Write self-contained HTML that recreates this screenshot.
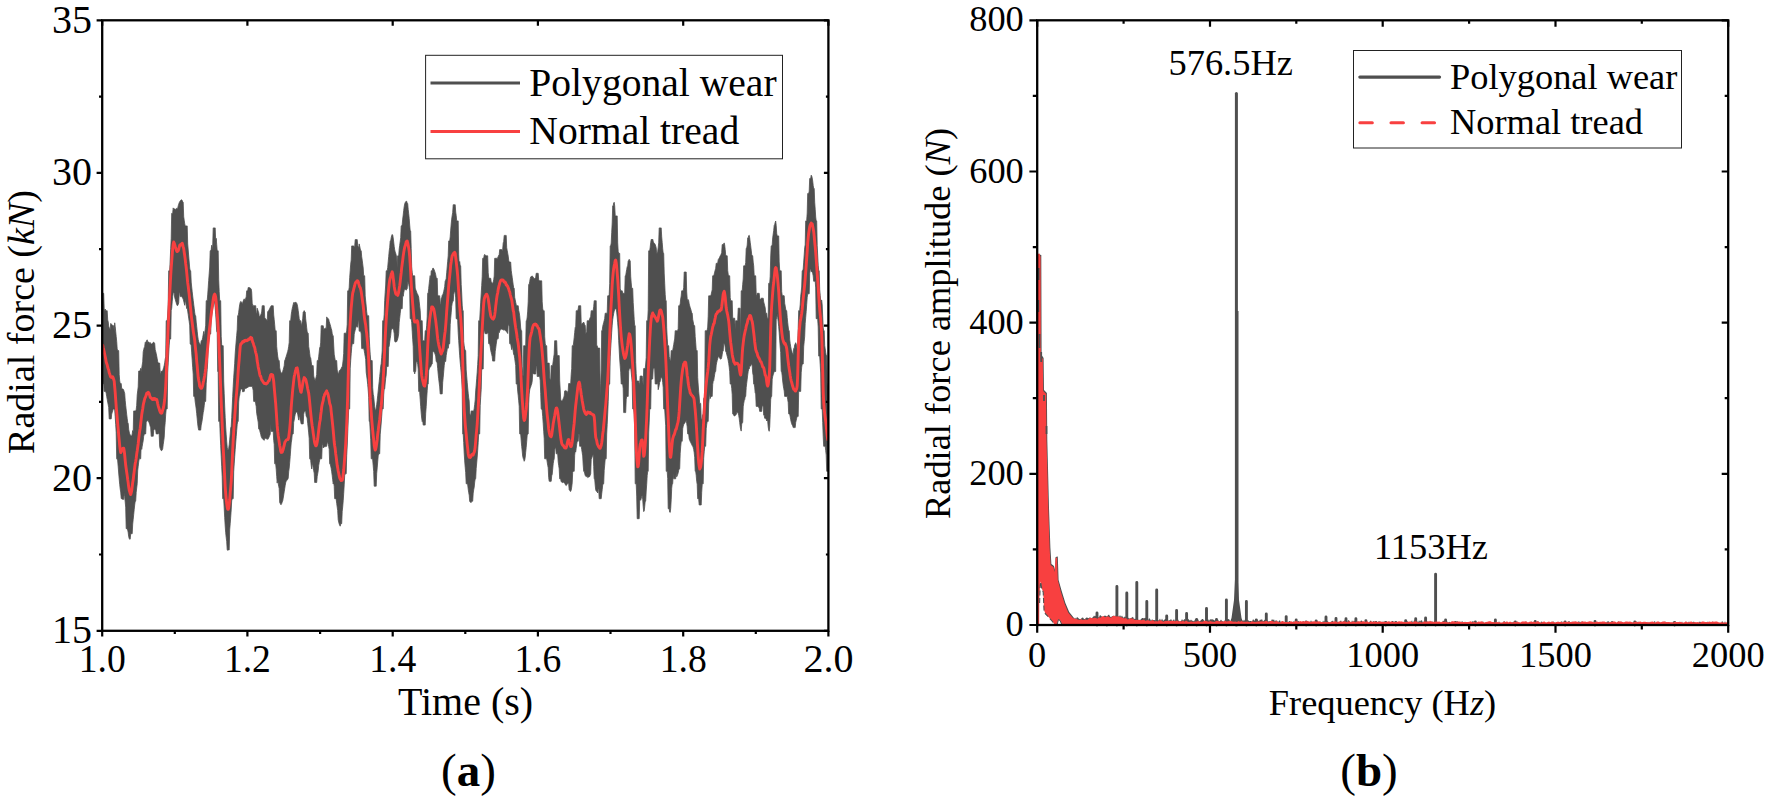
<!DOCTYPE html>
<html lang="en"><head><meta charset="utf-8"><title>Radial force: polygonal wear vs normal tread</title>
<style>html,body{margin:0;padding:0;background:#fff;overflow:hidden}</style></head>
<body>
<svg width="1769" height="802" viewBox="0 0 1769 802" style="display:block">
<rect width="1769" height="802" fill="#fff"/>
<style>text{font-family:"Liberation Serif","Times New Roman",serif;fill:#000}.l{font-size:40px}.r{font-size:36.4px}.b{font-weight:bold;font-size:47px}</style>
<clipPath id="cl"><rect x="102.2" y="20.3" width="726.1999999999999" height="610.5"/></clipPath>
<g clip-path="url(#cl)"><path d="M102.2,293.3 L102.7,293.3 L103.2,293.3 L103.7,293.3 L104.2,309.2 L104.7,311.6 L105.2,309.0 L105.7,310.7 L106.2,310.7 L106.7,310.7 L107.2,310.7 L107.7,320.0 L108.2,321.7 L108.7,326.2 L109.2,327.6 L109.7,328.8 L110.2,329.7 L110.7,323.5 L111.2,324.0 L111.7,324.4 L112.2,324.8 L112.7,325.7 L113.2,325.7 L113.7,325.7 L114.2,331.6 L114.7,322.8 L115.2,326.7 L115.7,331.5 L116.2,336.6 L116.7,341.4 L117.2,348.9 L117.7,350.6 L118.2,350.6 L118.7,350.6 L119.2,374.6 L119.7,380.8 L120.2,383.5 L120.7,383.5 L121.2,383.5 L121.7,388.5 L122.2,388.8 L122.7,389.0 L123.2,389.2 L123.7,390.1 L124.2,391.9 L124.7,393.4 L125.2,400.5 L125.7,405.5 L126.2,410.0 L126.7,414.4 L127.2,418.5 L127.7,422.4 L128.2,423.4 L128.7,429.3 L129.2,432.0 L129.7,433.9 L130.2,434.7 L130.7,435.9 L131.2,435.9 L131.7,435.9 L132.2,434.0 L132.7,430.6 L133.2,432.3 L133.7,410.9 L134.2,410.9 L134.7,410.9 L135.2,410.9 L135.7,410.9 L136.2,409.4 L136.7,405.3 L137.2,395.1 L137.7,390.9 L138.2,386.8 L138.7,371.0 L139.2,371.0 L139.7,371.0 L140.2,371.0 L140.7,368.3 L141.2,371.7 L141.7,368.3 L142.2,365.0 L142.7,361.9 L143.2,351.9 L143.7,349.6 L144.2,347.7 L144.7,346.5 L145.2,342.5 L145.7,342.0 L146.2,341.6 L146.7,340.6 L147.2,339.8 L147.7,342.4 L148.2,341.9 L148.7,341.9 L149.2,342.5 L149.7,343.9 L150.2,342.5 L150.7,343.7 L151.2,344.1 L151.7,344.0 L152.2,343.5 L152.7,343.0 L153.2,342.4 L153.7,342.0 L154.2,343.2 L154.7,343.2 L155.2,349.8 L155.7,351.4 L156.2,353.5 L156.7,356.0 L157.2,358.7 L157.7,361.5 L158.2,363.1 L158.7,363.1 L159.2,363.1 L159.7,363.1 L160.2,372.9 L160.7,374.6 L161.2,370.9 L161.7,371.4 L162.2,371.3 L162.7,370.5 L163.2,369.2 L163.7,367.5 L164.2,365.4 L164.7,362.9 L165.2,359.0 L165.7,356.9 L166.2,320.7 L166.7,320.7 L167.2,320.7 L167.7,315.0 L168.2,304.4 L168.7,270.8 L169.2,270.8 L169.7,270.8 L170.2,259.8 L170.7,248.5 L171.2,238.5 L171.7,213.4 L172.2,213.4 L172.7,212.8 L173.2,207.9 L173.7,209.4 L174.2,208.8 L174.7,209.0 L175.2,209.3 L175.7,209.8 L176.2,208.4 L176.7,208.4 L177.2,208.4 L177.7,208.4 L178.2,205.9 L178.7,204.2 L179.2,202.8 L179.7,201.7 L180.2,200.9 L180.7,200.3 L181.2,199.9 L181.7,199.8 L182.2,200.5 L182.7,202.1 L183.2,202.2 L183.7,216.8 L184.2,220.2 L184.7,223.5 L185.2,225.9 L185.7,225.9 L186.2,225.9 L186.7,225.9 L187.2,225.9 L187.7,243.9 L188.2,250.0 L188.7,256.0 L189.2,262.0 L189.7,268.1 L190.2,270.8 L190.7,270.8 L191.2,282.1 L191.7,287.0 L192.2,291.7 L192.7,296.1 L193.2,300.3 L193.7,304.3 L194.2,308.3 L194.7,312.4 L195.2,315.7 L195.7,315.7 L196.2,322.1 L196.7,326.4 L197.2,331.3 L197.7,336.0 L198.2,339.5 L198.7,341.6 L199.2,342.9 L199.7,343.7 L200.2,344.9 L200.7,344.8 L201.2,340.7 L201.7,340.7 L202.2,339.8 L202.7,337.4 L203.2,334.6 L203.7,331.4 L204.2,336.7 L204.7,333.3 L205.2,329.5 L205.7,325.2 L206.2,300.7 L206.7,300.7 L207.2,300.7 L207.7,294.9 L208.2,287.6 L208.7,280.4 L209.2,273.5 L209.7,267.0 L210.2,250.8 L210.7,250.8 L211.2,249.5 L211.7,245.2 L212.2,249.8 L212.7,246.0 L213.2,227.9 L213.7,227.9 L214.2,227.9 L214.7,227.9 L215.2,227.9 L215.7,241.2 L216.2,238.3 L216.7,244.4 L217.2,250.8 L217.7,250.8 L218.2,250.8 L218.7,279.6 L219.2,291.5 L219.7,300.7 L220.2,300.7 L220.7,300.7 L221.2,336.3 L221.7,344.8 L222.2,345.7 L222.7,345.7 L223.2,345.7 L223.7,381.0 L224.2,393.7 L224.7,406.1 L225.2,417.4 L225.7,427.0 L226.2,434.8 L226.7,441.6 L227.2,447.3 L227.7,449.7 L228.2,450.0 L228.7,448.3 L229.2,444.7 L229.7,439.9 L230.2,434.1 L230.7,428.0 L231.2,426.3 L231.7,417.5 L232.2,407.1 L232.7,396.3 L233.2,386.3 L233.7,377.8 L234.2,370.3 L234.7,363.3 L235.2,353.4 L235.7,347.1 L236.2,341.1 L236.7,335.3 L237.2,329.6 L237.7,315.7 L238.2,315.7 L238.7,312.3 L239.2,308.1 L239.7,304.6 L240.2,302.5 L240.7,301.5 L241.2,301.7 L241.7,302.6 L242.2,303.7 L242.7,302.4 L243.2,301.1 L243.7,299.9 L244.2,298.8 L244.7,300.7 L245.2,299.5 L245.7,298.3 L246.2,297.0 L246.7,290.8 L247.2,290.8 L247.7,290.8 L248.2,287.5 L248.7,287.5 L249.2,287.5 L249.7,287.7 L250.2,288.0 L250.7,288.4 L251.2,289.0 L251.7,292.0 L252.2,303.2 L252.7,305.1 L253.2,307.4 L253.7,305.3 L254.2,305.7 L254.7,305.7 L255.2,305.7 L255.7,305.7 L256.2,312.9 L256.7,314.2 L257.2,308.2 L257.7,309.7 L258.2,311.2 L258.7,312.5 L259.2,315.9 L259.7,316.9 L260.2,316.1 L260.7,315.1 L261.2,313.7 L261.7,312.0 L262.2,305.7 L262.7,305.7 L263.2,305.5 L263.7,305.7 L264.2,305.7 L264.7,317.4 L265.2,318.2 L265.7,318.9 L266.2,319.5 L266.7,320.1 L267.2,320.5 L267.7,311.6 L268.2,311.2 L268.7,310.5 L269.2,309.6 L269.7,308.6 L270.2,307.5 L270.7,306.6 L271.2,305.7 L271.7,305.7 L272.2,305.7 L272.7,305.7 L273.2,305.7 L273.7,314.9 L274.2,319.6 L274.7,324.8 L275.2,330.7 L275.7,330.7 L276.2,330.7 L276.7,346.6 L277.2,351.6 L277.7,356.1 L278.2,359.2 L278.7,360.6 L279.2,360.6 L279.7,367.8 L280.2,370.2 L280.7,371.9 L281.2,372.9 L281.7,373.2 L282.2,372.6 L282.7,371.4 L283.2,369.7 L283.7,367.8 L284.2,365.7 L284.7,360.6 L285.2,359.6 L285.7,358.0 L286.2,356.4 L286.7,354.7 L287.2,353.1 L287.7,351.4 L288.2,349.3 L288.7,346.3 L289.2,342.4 L289.7,320.7 L290.2,320.7 L290.7,320.7 L291.2,314.9 L291.7,311.4 L292.2,308.7 L292.7,306.5 L293.2,304.4 L293.7,302.5 L294.2,303.5 L294.7,302.4 L295.2,302.1 L295.7,302.6 L296.2,302.5 L296.7,303.2 L297.2,304.4 L297.7,306.9 L298.2,310.4 L298.7,314.3 L299.2,318.5 L299.7,320.7 L300.2,320.7 L300.7,320.7 L301.2,326.3 L301.7,324.1 L302.2,321.7 L302.7,318.9 L303.2,312.0 L303.7,312.0 L304.2,310.6 L304.7,312.0 L305.2,312.0 L305.7,318.9 L306.2,323.1 L306.7,327.8 L307.2,332.0 L307.7,333.2 L308.2,333.2 L308.7,346.4 L309.2,349.6 L309.7,353.5 L310.2,357.7 L310.7,357.7 L311.2,361.8 L311.7,365.3 L312.2,365.6 L312.7,365.6 L313.2,365.6 L313.7,376.0 L314.2,378.1 L314.7,379.6 L315.2,380.4 L315.7,378.4 L316.2,377.0 L316.7,374.4 L317.2,360.6 L317.7,360.6 L318.2,360.6 L318.7,356.8 L319.2,352.1 L319.7,347.6 L320.2,346.9 L320.7,342.2 L321.2,325.7 L321.7,325.7 L322.2,325.7 L322.7,325.7 L323.2,325.7 L323.7,329.4 L324.2,328.9 L324.7,328.5 L325.2,328.3 L325.7,328.2 L326.2,328.4 L326.7,316.9 L327.2,317.8 L327.7,318.6 L328.2,318.6 L328.7,319.3 L329.2,321.6 L329.7,323.1 L330.2,324.7 L330.7,326.5 L331.2,328.6 L331.7,330.0 L332.2,333.4 L332.7,335.7 L333.2,335.7 L333.7,345.0 L334.2,354.2 L334.7,357.1 L335.2,359.9 L335.7,360.6 L336.2,360.6 L336.7,360.6 L337.2,370.0 L337.7,371.9 L338.2,373.3 L338.7,374.3 L339.2,370.7 L339.7,370.5 L340.2,369.9 L340.7,369.2 L341.2,368.4 L341.7,367.2 L342.2,367.0 L342.7,364.0 L343.2,359.4 L343.7,353.4 L344.2,333.2 L344.7,333.2 L345.2,333.2 L345.7,333.2 L346.2,333.2 L346.7,330.9 L347.2,324.3 L347.7,290.8 L348.2,290.8 L348.7,290.8 L349.2,287.3 L349.7,277.4 L350.2,270.7 L350.7,264.1 L351.2,259.9 L351.7,245.9 L352.2,245.9 L352.7,245.9 L353.2,245.9 L353.7,245.9 L354.2,246.7 L354.7,246.4 L355.2,239.6 L355.7,239.6 L356.2,239.6 L356.7,239.6 L357.2,239.6 L357.7,245.2 L358.2,246.7 L358.7,248.5 L359.2,243.9 L359.7,246.2 L360.2,248.6 L360.7,250.8 L361.2,250.8 L361.7,256.8 L362.2,260.1 L362.7,263.9 L363.2,268.0 L363.7,275.8 L364.2,275.8 L364.7,275.8 L365.2,295.9 L365.7,300.9 L366.2,306.1 L366.7,311.7 L367.2,315.7 L367.7,315.7 L368.2,315.7 L368.7,315.7 L369.2,336.8 L369.7,346.4 L370.2,354.2 L370.7,359.9 L371.2,360.6 L371.7,360.6 L372.2,360.6 L372.7,387.7 L373.2,394.2 L373.7,396.4 L374.2,402.0 L374.7,406.6 L375.2,409.8 L375.7,410.3 L376.2,408.2 L376.7,404.8 L377.2,400.5 L377.7,395.8 L378.2,390.9 L378.7,386.1 L379.2,381.5 L379.7,376.6 L380.2,371.6 L380.7,366.2 L381.2,363.7 L381.7,357.5 L382.2,350.8 L382.7,320.7 L383.2,320.7 L383.7,320.7 L384.2,314.7 L384.7,300.5 L385.2,292.2 L385.7,285.0 L386.2,270.8 L386.7,270.8 L387.2,270.8 L387.7,267.5 L388.2,261.7 L388.7,256.6 L389.2,250.9 L389.7,247.4 L390.2,240.9 L390.7,240.9 L391.2,237.6 L391.7,235.6 L392.2,234.5 L392.7,235.0 L393.2,237.9 L393.7,242.0 L394.2,246.4 L394.7,249.8 L395.2,252.1 L395.7,253.3 L396.2,255.3 L396.7,256.3 L397.2,268.1 L397.7,255.8 L398.2,255.8 L398.7,255.8 L399.2,249.0 L399.7,245.4 L400.2,241.6 L400.7,237.7 L401.2,225.9 L401.7,225.9 L402.2,224.5 L402.7,219.1 L403.2,215.1 L403.7,210.4 L404.2,206.6 L404.7,204.0 L405.2,202.6 L405.7,201.7 L406.2,201.2 L406.7,201.3 L407.2,203.4 L407.7,203.4 L408.2,209.5 L408.7,213.7 L409.2,218.6 L409.7,225.1 L410.2,230.9 L410.7,230.9 L411.2,248.6 L411.7,266.9 L412.2,272.3 L412.7,275.8 L413.2,275.8 L413.7,275.8 L414.2,275.8 L414.7,275.8 L415.2,288.1 L415.7,289.6 L416.2,290.9 L416.7,292.2 L417.2,294.0 L417.7,294.2 L418.2,295.7 L418.7,297.1 L419.2,301.8 L419.7,306.3 L420.2,310.5 L420.7,320.7 L421.2,320.7 L421.7,320.7 L422.2,320.7 L422.7,340.7 L423.2,340.7 L423.7,340.7 L424.2,340.7 L424.7,340.7 L425.2,330.7 L425.7,330.7 L426.2,330.7 L426.7,325.2 L427.2,316.8 L427.7,293.3 L428.2,293.3 L428.7,288.5 L429.2,283.5 L429.7,279.3 L430.2,275.6 L430.7,280.5 L431.2,270.8 L431.7,270.8 L432.2,270.8 L432.7,268.3 L433.2,268.1 L433.7,268.8 L434.2,269.9 L434.7,271.3 L435.2,272.8 L435.7,274.7 L436.2,277.5 L436.7,278.3 L437.2,278.3 L437.7,295.1 L438.2,295.8 L438.7,295.8 L439.2,295.8 L439.7,295.8 L440.2,303.7 L440.7,304.3 L441.2,298.2 L441.7,298.2 L442.2,295.3 L442.7,294.7 L443.2,293.5 L443.7,291.6 L444.2,289.2 L444.7,286.7 L445.2,280.8 L445.7,280.3 L446.2,278.5 L446.7,272.8 L447.2,266.9 L447.7,261.2 L448.2,255.9 L448.7,240.9 L449.2,240.9 L449.7,240.9 L450.2,236.8 L450.7,230.1 L451.2,224.1 L451.7,219.1 L452.2,215.4 L452.7,212.5 L453.2,204.7 L453.7,204.7 L454.2,204.7 L454.7,204.7 L455.2,204.7 L455.7,212.0 L456.2,215.6 L456.7,220.9 L457.2,220.9 L457.7,220.9 L458.2,220.9 L458.7,254.6 L459.2,264.5 L459.7,261.5 L460.2,265.8 L460.7,265.8 L461.2,284.5 L461.7,293.0 L462.2,305.1 L462.7,310.7 L463.2,310.7 L463.7,341.5 L464.2,345.8 L464.7,348.8 L465.2,350.6 L465.7,350.6 L466.2,369.9 L466.7,376.2 L467.2,382.3 L467.7,388.0 L468.2,393.2 L468.7,397.7 L469.2,401.1 L469.7,413.1 L470.2,414.7 L470.7,415.9 L471.2,410.9 L471.7,410.9 L472.2,410.9 L472.7,410.9 L473.2,410.9 L473.7,411.2 L474.2,408.4 L474.7,404.6 L475.2,399.9 L475.7,390.9 L476.2,385.1 L476.7,378.8 L477.2,372.2 L477.7,364.5 L478.2,355.5 L478.7,320.7 L479.2,320.7 L479.7,320.3 L480.2,310.8 L480.7,302.1 L481.2,293.9 L481.7,285.6 L482.2,276.8 L482.7,258.3 L483.2,258.3 L483.7,258.3 L484.2,255.3 L484.7,254.4 L485.2,255.1 L485.7,255.8 L486.2,255.8 L486.7,255.8 L487.2,255.8 L487.7,255.8 L488.2,272.8 L488.7,277.3 L489.2,278.3 L489.7,278.3 L490.2,278.3 L490.7,278.3 L491.2,281.8 L491.7,282.5 L492.2,283.1 L492.7,283.4 L493.2,282.0 L493.7,279.7 L494.2,276.1 L494.7,258.3 L495.2,258.3 L495.7,258.3 L496.2,258.3 L496.7,258.3 L497.2,258.7 L497.7,257.5 L498.2,256.5 L498.7,255.3 L499.2,254.6 L499.7,249.6 L500.2,249.6 L500.7,249.6 L501.2,249.6 L501.7,249.6 L502.2,250.9 L502.7,249.2 L503.2,243.0 L503.7,241.4 L504.2,235.4 L504.7,235.4 L505.2,235.4 L505.7,235.4 L506.2,235.4 L506.7,247.7 L507.2,250.4 L507.7,253.2 L508.2,256.1 L508.7,260.2 L509.2,262.1 L509.7,262.1 L510.2,262.1 L510.7,262.1 L511.2,270.3 L511.7,273.8 L512.2,277.3 L512.7,281.0 L513.2,284.8 L513.7,287.8 L514.2,288.3 L514.7,297.3 L515.2,299.8 L515.7,302.3 L516.2,304.6 L516.7,305.7 L517.2,305.7 L517.7,305.7 L518.2,305.7 L518.7,310.4 L519.2,312.6 L519.7,315.9 L520.2,321.0 L520.7,328.0 L521.2,330.7 L521.7,330.7 L522.2,366.2 L522.7,374.9 L523.2,376.0 L523.7,345.7 L524.2,345.7 L524.7,345.7 L525.2,345.7 L525.7,345.7 L526.2,320.7 L526.7,320.7 L527.2,317.1 L527.7,311.1 L528.2,301.8 L528.7,284.5 L529.2,284.5 L529.7,281.6 L530.2,278.7 L530.7,276.9 L531.2,276.8 L531.7,276.1 L532.2,276.0 L532.7,276.4 L533.2,277.1 L533.7,278.3 L534.2,278.3 L534.7,278.9 L535.2,278.1 L535.7,277.4 L536.2,273.3 L536.7,273.3 L537.2,273.3 L537.7,273.3 L538.2,273.3 L538.7,280.0 L539.2,280.5 L539.7,280.8 L540.2,280.8 L540.7,280.8 L541.2,280.8 L541.7,280.8 L542.2,301.8 L542.7,308.3 L543.2,310.7 L543.7,310.7 L544.2,310.7 L544.7,336.8 L545.2,343.3 L545.7,345.7 L546.2,345.7 L546.7,345.7 L547.2,362.5 L547.7,363.1 L548.2,363.1 L548.7,363.1 L549.2,363.1 L549.7,378.0 L550.2,379.6 L550.7,380.0 L551.2,365.6 L551.7,365.6 L552.2,365.6 L552.7,365.2 L553.2,361.1 L553.7,357.3 L554.2,354.1 L554.7,340.7 L555.2,340.7 L555.7,340.7 L556.2,340.7 L556.7,340.7 L557.2,355.6 L557.7,355.6 L558.2,355.6 L558.7,355.6 L559.2,355.6 L559.7,380.9 L560.2,390.0 L560.7,399.1 L561.2,400.9 L561.7,400.9 L562.2,400.9 L562.7,399.9 L563.2,398.7 L563.7,397.4 L564.2,396.0 L564.7,390.9 L565.2,390.9 L565.7,390.5 L566.2,390.9 L566.7,390.9 L567.2,394.1 L567.7,391.8 L568.2,390.4 L568.7,383.5 L569.2,383.5 L569.7,383.5 L570.2,383.5 L570.7,383.5 L571.2,374.3 L571.7,368.7 L572.2,345.7 L572.7,345.7 L573.2,345.7 L573.7,342.0 L574.2,337.4 L574.7,332.4 L575.2,327.4 L575.7,327.9 L576.2,310.7 L576.7,310.7 L577.2,310.7 L577.7,310.7 L578.2,308.8 L578.7,305.7 L579.2,305.7 L579.7,305.7 L580.2,305.7 L580.7,305.7 L581.2,323.1 L581.7,325.8 L582.2,323.2 L582.7,323.2 L583.2,323.2 L583.7,322.1 L584.2,323.2 L584.7,324.9 L585.2,325.4 L585.7,333.8 L586.2,332.9 L586.7,331.5 L587.2,320.7 L587.7,320.7 L588.2,320.7 L588.7,320.7 L589.2,320.2 L589.7,318.8 L590.2,317.6 L590.7,316.4 L591.2,310.7 L591.7,310.7 L592.2,310.7 L592.7,310.7 L593.2,310.5 L593.7,306.7 L594.2,300.7 L594.7,300.7 L595.2,300.7 L595.7,300.7 L596.2,300.7 L596.7,345.7 L597.2,345.7 L597.7,348.1 L598.2,348.1 L598.7,348.1 L599.2,348.1 L599.7,348.1 L600.2,395.5 L600.7,383.3 L601.2,370.0 L601.7,330.7 L602.2,330.7 L602.7,326.4 L603.2,324.4 L603.7,322.5 L604.2,320.6 L604.7,318.5 L605.2,313.2 L605.7,313.2 L606.2,313.2 L606.7,313.2 L607.2,313.2 L607.7,295.8 L608.2,295.8 L608.7,295.8 L609.2,294.5 L609.7,283.7 L610.2,245.9 L610.7,245.9 L611.2,243.1 L611.7,232.6 L612.2,222.9 L612.7,205.9 L613.2,205.9 L613.7,203.0 L614.2,202.3 L614.7,205.9 L615.2,215.3 L615.7,215.9 L616.2,215.9 L616.7,215.9 L617.2,215.9 L617.7,242.9 L618.2,251.4 L618.7,253.3 L619.2,253.3 L619.7,253.3 L620.2,288.3 L620.7,290.8 L621.2,290.8 L621.7,290.8 L622.2,290.8 L622.7,293.3 L623.2,293.3 L623.7,293.3 L624.2,293.3 L624.7,293.3 L625.2,275.8 L625.7,275.8 L626.2,272.3 L626.7,269.5 L627.2,266.7 L627.7,266.0 L628.2,260.8 L628.7,260.5 L629.2,259.3 L629.7,260.5 L630.2,260.8 L630.7,276.2 L631.2,282.9 L631.7,288.3 L632.2,288.3 L632.7,288.3 L633.2,302.4 L633.7,310.4 L634.2,319.4 L634.7,325.7 L635.2,325.7 L635.7,362.5 L636.2,373.7 L636.7,381.0 L637.2,381.0 L637.7,381.0 L638.2,381.0 L638.7,381.0 L639.2,385.0 L639.7,382.4 L640.2,376.0 L640.7,376.0 L641.2,376.0 L641.7,376.0 L642.2,376.0 L642.7,380.5 L643.2,385.6 L643.7,368.5 L644.2,368.5 L644.7,368.5 L645.2,368.5 L645.7,364.0 L646.2,357.5 L646.7,320.7 L647.2,320.7 L647.7,320.7 L648.2,309.8 L648.7,250.8 L649.2,250.8 L649.7,250.8 L650.2,247.2 L650.7,242.5 L651.2,239.7 L651.7,239.1 L652.2,240.2 L652.7,239.2 L653.2,241.2 L653.7,243.0 L654.2,243.2 L654.7,243.6 L655.2,244.5 L655.7,246.0 L656.2,248.0 L656.7,253.3 L657.2,253.3 L657.7,251.3 L658.2,247.5 L658.7,242.8 L659.2,227.9 L659.7,227.9 L660.2,227.9 L660.7,227.9 L661.2,227.9 L661.7,236.8 L662.2,242.5 L662.7,248.7 L663.2,253.3 L663.7,253.3 L664.2,273.1 L664.7,283.2 L665.2,294.3 L665.7,300.7 L666.2,300.7 L666.7,327.9 L667.2,338.1 L667.7,345.7 L668.2,345.7 L668.7,345.7 L669.2,356.8 L669.7,358.4 L670.2,360.6 L670.7,360.6 L671.2,350.6 L671.7,350.6 L672.2,350.6 L672.7,350.4 L673.2,347.4 L673.7,344.8 L674.2,341.4 L674.7,339.0 L675.2,330.7 L675.7,330.7 L676.2,330.7 L676.7,330.7 L677.2,330.7 L677.7,330.4 L678.2,328.5 L678.7,305.7 L679.2,305.7 L679.7,305.7 L680.2,303.6 L680.7,299.0 L681.2,296.0 L681.7,290.8 L682.2,290.8 L682.7,290.8 L683.2,290.8 L683.7,287.6 L684.2,272.0 L684.7,272.0 L685.2,272.0 L685.7,272.0 L686.2,272.0 L686.7,292.0 L687.2,298.9 L687.7,300.7 L688.2,299.6 L688.7,300.7 L689.2,303.9 L689.7,305.8 L690.2,307.5 L690.7,309.0 L691.2,310.7 L691.7,313.1 L692.2,313.2 L692.7,319.3 L693.2,321.8 L693.7,324.6 L694.2,325.7 L694.7,325.7 L695.2,336.6 L695.7,342.8 L696.2,349.9 L696.7,350.6 L697.2,350.6 L697.7,377.4 L698.2,385.0 L698.7,391.6 L699.2,397.0 L699.7,403.4 L700.2,403.4 L700.7,403.4 L701.2,418.1 L701.7,420.1 L702.2,419.1 L702.7,414.7 L703.2,414.7 L703.7,398.4 L704.2,398.4 L704.7,395.8 L705.2,330.7 L705.7,330.7 L706.2,330.7 L706.7,330.7 L707.2,330.0 L707.7,327.1 L708.2,316.3 L708.7,295.8 L709.2,295.8 L709.7,295.8 L710.2,295.8 L710.7,295.8 L711.2,294.3 L711.7,291.9 L712.2,289.8 L712.7,275.8 L713.2,275.8 L713.7,275.8 L714.2,274.2 L714.7,272.1 L715.2,270.1 L715.7,268.3 L716.2,263.3 L716.7,263.3 L717.2,263.3 L717.7,263.3 L718.2,259.7 L718.7,258.9 L719.2,258.1 L719.7,257.2 L720.2,255.8 L720.7,255.2 L721.2,254.1 L721.7,252.6 L722.2,244.6 L722.7,244.6 L723.2,244.6 L723.7,243.7 L724.2,242.9 L724.7,245.0 L725.2,249.6 L725.7,254.9 L726.2,255.8 L726.7,255.8 L727.2,255.8 L727.7,270.4 L728.2,274.3 L728.7,275.8 L729.2,275.8 L729.7,275.8 L730.2,297.6 L730.7,300.7 L731.2,300.7 L731.7,300.7 L732.2,300.7 L732.7,318.2 L733.2,318.2 L733.7,318.2 L734.2,318.2 L734.7,318.2 L735.2,329.2 L735.7,320.7 L736.2,320.7 L736.7,320.7 L737.2,320.7 L737.7,320.7 L738.2,308.2 L738.7,308.2 L739.2,308.2 L739.7,308.2 L740.2,308.2 L740.7,343.1 L741.2,290.8 L741.7,290.8 L742.2,290.8 L742.7,284.3 L743.2,279.0 L743.7,265.8 L744.2,265.8 L744.7,265.8 L745.2,265.8 L745.7,262.5 L746.2,248.3 L746.7,248.3 L747.2,245.1 L747.7,237.9 L748.2,237.9 L748.7,235.7 L749.2,235.3 L749.7,237.9 L750.2,242.2 L750.7,245.9 L751.2,250.1 L751.7,254.5 L752.2,255.8 L752.7,255.8 L753.2,262.1 L753.7,265.9 L754.2,275.8 L754.7,275.8 L755.2,275.8 L755.7,275.8 L756.2,294.4 L756.7,296.4 L757.2,293.3 L757.7,293.3 L758.2,293.3 L758.7,293.3 L759.2,293.3 L759.7,298.4 L760.2,299.0 L760.7,299.6 L761.2,298.2 L761.7,298.2 L762.2,298.2 L762.7,298.2 L763.2,298.2 L763.7,301.9 L764.2,303.8 L764.7,305.7 L765.2,307.8 L765.7,313.2 L766.2,313.2 L766.7,313.2 L767.2,318.2 L767.7,318.2 L768.2,318.2 L768.7,283.3 L769.2,283.3 L769.7,283.3 L770.2,276.4 L770.7,257.0 L771.2,245.9 L771.7,245.9 L772.2,245.0 L772.7,237.9 L773.2,234.1 L773.7,230.6 L774.2,225.4 L774.7,224.4 L775.2,222.4 L775.7,221.0 L776.2,225.4 L776.7,233.3 L777.2,235.9 L777.7,235.9 L778.2,235.9 L778.7,235.9 L779.2,261.9 L779.7,270.2 L780.2,270.8 L780.7,270.8 L781.2,270.8 L781.7,291.6 L782.2,295.3 L782.7,295.8 L783.2,295.3 L783.7,295.8 L784.2,295.8 L784.7,303.4 L785.2,306.1 L785.7,309.2 L786.2,310.7 L786.7,310.7 L787.2,317.5 L787.7,322.5 L788.2,327.0 L788.7,330.7 L789.2,330.7 L789.7,339.6 L790.2,343.6 L790.7,346.5 L791.2,349.3 L791.7,350.6 L792.2,352.8 L792.7,353.9 L793.2,354.8 L793.7,348.5 L794.2,348.4 L794.7,344.9 L795.2,344.0 L795.7,342.7 L796.2,344.1 L796.7,345.7 L797.2,351.8 L797.7,344.9 L798.2,328.3 L798.7,310.7 L799.2,310.7 L799.7,309.9 L800.2,304.8 L800.7,296.3 L801.2,291.9 L801.7,287.0 L802.2,270.8 L802.7,270.8 L803.2,269.0 L803.7,262.1 L804.2,254.9 L804.7,247.6 L805.2,244.9 L805.7,220.9 L806.2,220.9 L806.7,220.4 L807.2,213.0 L807.7,193.5 L808.2,193.5 L808.7,193.5 L809.2,191.2 L809.7,178.5 L810.2,178.5 L810.7,178.5 L811.2,175.2 L811.7,176.0 L812.2,178.0 L812.7,181.0 L813.2,185.5 L813.7,188.5 L814.2,188.5 L814.7,202.2 L815.2,209.2 L815.7,217.0 L816.2,220.9 L816.7,220.9 L817.2,245.3 L817.7,255.6 L818.2,265.3 L818.7,270.8 L819.2,270.8 L819.7,289.3 L820.2,295.3 L820.7,301.1 L821.2,300.4 L821.7,300.0 L822.2,304.9 L822.7,316.6 L823.2,327.8 L823.7,330.7 L824.2,330.7 L824.7,345.5 L825.2,348.8 L825.7,352.4 L826.2,355.6 L826.7,355.6 L827.2,382.7 L827.7,389.4 L828.2,389.8 L828.2,471.3 L827.7,471.3 L827.2,471.3 L826.7,471.3 L826.2,455.1 L825.7,450.5 L825.2,446.3 L824.7,446.3 L824.2,446.3 L823.7,446.3 L823.2,436.4 L822.7,422.6 L822.2,408.9 L821.7,408.9 L821.2,408.9 L820.7,373.0 L820.2,364.3 L819.7,356.1 L819.2,356.1 L818.7,356.1 L818.2,327.1 L817.7,319.4 L817.2,318.7 L816.7,318.7 L816.2,318.7 L815.7,287.9 L815.2,281.3 L814.7,281.3 L814.2,281.3 L813.7,281.3 L813.2,275.8 L812.7,273.5 L812.2,271.9 L811.7,271.2 L811.2,271.8 L810.7,268.8 L810.2,269.4 L809.7,273.7 L809.2,293.8 L808.7,293.8 L808.2,293.8 L807.7,293.8 L807.2,297.5 L806.7,304.5 L806.2,311.4 L805.7,317.6 L805.2,323.3 L804.7,336.3 L804.2,341.5 L803.7,346.7 L803.2,364.0 L802.7,364.0 L802.2,364.0 L801.7,367.3 L801.2,372.7 L800.7,391.4 L800.2,391.4 L799.7,391.4 L799.2,391.4 L798.7,391.4 L798.2,416.4 L797.7,416.4 L797.2,416.4 L796.7,418.1 L796.2,420.5 L795.7,422.5 L795.2,427.6 L794.7,427.6 L794.2,427.6 L793.7,427.6 L793.2,427.6 L792.7,425.8 L792.2,425.0 L791.7,423.8 L791.2,422.0 L790.7,419.7 L790.2,416.9 L789.7,413.9 L789.2,413.9 L788.7,413.9 L788.2,402.4 L787.7,399.5 L787.2,396.1 L786.7,396.4 L786.2,396.4 L785.7,396.4 L785.2,396.4 L784.7,396.4 L784.2,390.9 L783.7,388.3 L783.2,385.2 L782.7,381.0 L782.2,375.8 L781.7,371.5 L781.2,371.5 L780.7,352.6 L780.2,347.0 L779.7,340.1 L779.2,332.9 L778.7,326.6 L778.2,321.6 L777.7,317.3 L777.2,313.5 L776.7,318.7 L776.2,318.7 L775.7,371.5 L775.2,371.5 L774.7,371.5 L774.2,371.5 L773.7,373.2 L773.2,374.8 L772.7,376.6 L772.2,379.2 L771.7,396.4 L771.2,396.4 L770.7,399.6 L770.2,414.7 L769.7,426.9 L769.2,431.3 L768.7,430.1 L768.2,426.9 L767.7,421.2 L767.2,420.1 L766.7,421.0 L766.2,419.3 L765.7,418.4 L765.2,418.2 L764.7,418.3 L764.2,415.1 L763.7,415.1 L763.2,406.6 L762.7,406.2 L762.2,405.6 L761.7,411.4 L761.2,411.4 L760.7,411.4 L760.2,411.4 L759.7,411.4 L759.2,408.0 L758.7,407.4 L758.2,406.7 L757.7,406.4 L757.2,406.4 L756.7,406.4 L756.2,406.4 L755.7,393.8 L755.2,393.1 L754.7,387.1 L754.2,384.0 L753.7,384.0 L753.2,375.5 L752.7,372.9 L752.2,365.8 L751.7,364.0 L751.2,364.0 L750.7,366.1 L750.2,366.1 L749.7,366.1 L749.2,369.0 L748.7,369.3 L748.2,371.4 L747.7,375.1 L747.2,379.2 L746.7,383.3 L746.2,387.5 L745.7,396.4 L745.2,396.4 L744.7,399.7 L744.2,400.6 L743.7,403.5 L743.2,406.8 L742.7,422.6 L742.2,422.6 L741.7,424.4 L741.2,431.1 L740.7,429.5 L740.2,426.8 L739.7,422.6 L739.2,418.5 L738.7,415.4 L738.2,413.6 L737.7,412.6 L737.2,412.6 L736.7,412.6 L736.2,414.4 L735.7,415.0 L735.2,415.6 L734.7,416.1 L734.2,416.0 L733.7,415.1 L733.2,413.9 L732.7,413.9 L732.2,394.6 L731.7,388.3 L731.2,384.0 L730.7,384.0 L730.2,384.0 L729.7,371.7 L729.2,367.2 L728.7,363.3 L728.2,360.4 L727.7,358.1 L727.2,356.2 L726.7,354.3 L726.2,352.1 L725.7,351.5 L725.2,347.4 L724.7,343.9 L724.2,343.7 L723.7,343.7 L723.2,351.1 L722.7,351.1 L722.2,354.6 L721.7,357.4 L721.2,358.9 L720.7,359.2 L720.2,358.8 L719.7,358.3 L719.2,357.0 L718.7,356.4 L718.2,357.1 L717.7,358.8 L717.2,360.4 L716.7,362.6 L716.2,365.1 L715.7,371.5 L715.2,371.5 L714.7,374.3 L714.2,377.5 L713.7,380.7 L713.2,381.3 L712.7,384.5 L712.2,396.4 L711.7,396.4 L711.2,396.4 L710.7,397.0 L710.2,398.6 L709.7,392.4 L709.2,397.8 L708.7,403.9 L708.2,421.4 L707.7,421.4 L707.2,421.4 L706.7,424.7 L706.2,428.7 L705.7,446.3 L705.2,446.3 L704.7,446.7 L704.2,451.8 L703.7,458.3 L703.2,483.8 L702.7,483.8 L702.2,484.6 L701.7,492.5 L701.2,505.0 L700.7,505.0 L700.2,505.0 L699.7,505.0 L699.2,505.0 L698.7,499.2 L698.2,498.7 L697.7,498.7 L697.2,484.3 L696.7,481.3 L696.2,475.4 L695.7,471.3 L695.2,471.3 L694.7,457.3 L694.2,452.7 L693.7,449.5 L693.2,447.6 L692.7,446.3 L692.2,445.6 L691.7,444.6 L691.2,443.5 L690.7,442.5 L690.2,441.5 L689.7,440.3 L689.2,438.9 L688.7,433.9 L688.2,433.9 L687.7,433.9 L687.2,426.8 L686.7,423.4 L686.2,420.3 L685.7,421.4 L685.2,422.3 L684.7,423.3 L684.2,423.8 L683.7,424.6 L683.2,426.2 L682.7,428.8 L682.2,441.3 L681.7,441.3 L681.2,441.8 L680.7,446.8 L680.2,453.2 L679.7,468.8 L679.2,468.8 L678.7,470.3 L678.2,472.8 L677.7,474.5 L677.2,475.8 L676.7,476.8 L676.2,471.2 L675.7,478.8 L675.2,478.8 L674.7,478.8 L674.2,478.8 L673.7,478.8 L673.2,473.8 L672.7,483.8 L672.2,483.8 L671.7,488.3 L671.2,499.8 L670.7,508.6 L670.2,512.4 L669.7,512.1 L669.2,508.7 L668.7,508.7 L668.2,508.7 L667.7,478.6 L667.2,471.3 L666.7,471.3 L666.2,471.3 L665.7,425.7 L665.2,418.0 L664.7,408.9 L664.2,408.9 L663.7,408.9 L663.2,387.6 L662.7,382.4 L662.2,378.9 L661.7,377.7 L661.2,377.5 L660.7,377.9 L660.2,381.5 L659.7,382.3 L659.2,385.4 L658.7,387.7 L658.2,389.7 L657.7,380.5 L657.2,384.0 L656.7,384.0 L656.2,384.0 L655.7,384.0 L655.2,384.0 L654.7,368.6 L654.2,368.6 L653.7,368.6 L653.2,368.8 L652.7,379.0 L652.2,379.0 L651.7,379.0 L651.2,380.5 L650.7,408.9 L650.2,408.9 L649.7,408.9 L649.2,422.1 L648.7,432.9 L648.2,471.3 L647.7,471.3 L647.2,475.6 L646.7,484.3 L646.2,491.0 L645.7,501.2 L645.2,501.2 L644.7,506.7 L644.2,510.9 L643.7,511.6 L643.2,506.6 L642.7,499.3 L642.2,495.7 L641.7,496.3 L641.2,498.7 L640.7,500.3 L640.2,498.7 L639.7,501.0 L639.2,518.7 L638.7,518.7 L638.2,518.7 L637.7,518.7 L637.2,518.7 L636.7,496.1 L636.2,483.8 L635.7,483.8 L635.2,483.8 L634.7,428.2 L634.2,414.4 L633.7,408.9 L633.2,408.9 L632.7,408.9 L632.2,382.5 L631.7,377.1 L631.2,372.1 L630.7,367.6 L630.2,368.6 L629.7,368.6 L629.2,368.6 L628.7,371.6 L628.2,396.4 L627.7,396.4 L627.2,396.4 L626.7,396.4 L626.2,399.2 L625.7,412.6 L625.2,412.6 L624.7,412.6 L624.2,412.6 L623.7,412.6 L623.2,388.8 L622.7,384.0 L622.2,384.0 L621.7,384.0 L621.2,384.0 L620.7,372.2 L620.2,366.1 L619.7,359.0 L619.2,350.2 L618.7,340.7 L618.2,329.6 L617.7,322.8 L617.2,317.0 L616.7,312.1 L616.2,309.0 L615.7,308.7 L615.2,309.2 L614.7,309.5 L614.2,311.1 L613.7,313.4 L613.2,316.3 L612.7,319.7 L612.2,325.2 L611.7,332.2 L611.2,340.2 L610.7,348.4 L610.2,356.9 L609.7,384.0 L609.2,384.0 L608.7,386.1 L608.2,401.7 L607.7,413.9 L607.2,424.4 L606.7,433.9 L606.2,458.8 L605.7,458.8 L605.2,458.9 L604.7,465.2 L604.2,470.3 L603.7,483.8 L603.2,483.8 L602.7,485.0 L602.2,489.7 L601.7,493.9 L601.2,498.7 L600.7,498.7 L600.2,498.7 L599.7,498.7 L599.2,498.7 L598.7,489.6 L598.2,488.7 L597.7,493.0 L597.2,491.8 L596.7,491.6 L596.2,491.1 L595.7,489.8 L595.2,485.2 L594.7,478.8 L594.2,478.8 L593.7,466.3 L593.2,454.4 L592.7,455.5 L592.2,456.7 L591.7,458.0 L591.2,459.4 L590.7,473.8 L590.2,475.0 L589.7,476.4 L589.2,476.9 L588.7,477.0 L588.2,477.2 L587.7,477.6 L587.2,476.2 L586.7,476.5 L586.2,476.6 L585.7,476.3 L585.2,475.3 L584.7,473.6 L584.2,471.3 L583.7,471.3 L583.2,465.0 L582.7,455.9 L582.2,452.7 L581.7,449.4 L581.2,446.3 L580.7,446.3 L580.2,446.3 L579.7,446.3 L579.2,434.6 L578.7,433.8 L578.2,441.3 L577.7,441.3 L577.2,441.3 L576.7,444.3 L576.2,448.3 L575.7,452.1 L575.2,450.9 L574.7,455.2 L574.2,471.3 L573.7,471.3 L573.2,471.3 L572.7,472.2 L572.2,482.9 L571.7,487.1 L571.2,490.0 L570.7,491.4 L570.2,491.3 L569.7,490.0 L569.2,490.0 L568.7,484.3 L568.2,483.1 L567.7,483.0 L567.2,484.0 L566.7,485.1 L566.2,485.6 L565.7,485.2 L565.2,484.2 L564.7,482.9 L564.2,482.9 L563.7,482.1 L563.2,482.4 L562.7,482.6 L562.2,482.5 L561.7,482.0 L561.2,481.8 L560.7,479.4 L560.2,478.8 L559.7,478.8 L559.2,468.9 L558.7,465.5 L558.2,461.8 L557.7,453.8 L557.2,453.8 L556.7,453.8 L556.2,453.8 L555.7,447.1 L555.2,448.2 L554.7,449.8 L554.2,458.8 L553.7,460.6 L553.2,463.7 L552.7,469.1 L552.2,474.4 L551.7,475.8 L551.2,481.3 L550.7,481.3 L550.2,481.7 L549.7,481.3 L549.2,481.3 L548.7,477.7 L548.2,467.8 L547.7,465.3 L547.2,462.1 L546.7,458.8 L546.2,458.8 L545.7,458.8 L545.2,458.8 L544.7,458.8 L544.2,438.7 L543.7,431.2 L543.2,423.5 L542.7,416.4 L542.2,410.4 L541.7,408.9 L541.2,408.9 L540.7,393.3 L540.2,380.5 L539.7,376.5 L539.2,376.5 L538.7,376.5 L538.2,376.5 L537.7,376.5 L537.2,376.5 L536.7,366.1 L536.2,366.1 L535.7,374.0 L535.2,374.0 L534.7,374.0 L534.2,374.0 L533.7,374.0 L533.2,373.1 L532.7,373.9 L532.2,381.0 L531.7,384.0 L531.2,385.0 L530.7,387.0 L530.2,387.9 L529.7,390.0 L529.2,394.1 L528.7,403.7 L528.2,433.9 L527.7,433.9 L527.2,435.0 L526.7,441.7 L526.2,447.3 L525.7,452.3 L525.2,457.4 L524.7,460.2 L524.2,461.3 L523.7,459.6 L523.2,458.3 L522.7,456.3 L522.2,451.0 L521.7,446.4 L521.2,440.8 L520.7,433.9 L520.2,433.9 L519.7,433.9 L519.2,406.3 L518.7,400.8 L518.2,395.7 L517.7,391.1 L517.2,384.0 L516.7,384.0 L516.2,384.0 L515.7,365.5 L515.2,362.0 L514.7,358.4 L514.2,354.9 L513.7,354.6 L513.2,351.2 L512.7,348.0 L512.2,345.0 L511.7,349.7 L511.2,346.7 L510.7,343.8 L510.2,343.7 L509.7,343.7 L509.2,326.6 L508.7,325.0 L508.2,323.8 L507.7,333.5 L507.2,332.7 L506.7,332.0 L506.2,331.3 L505.7,330.8 L505.2,330.4 L504.7,330.1 L504.2,329.8 L503.7,330.1 L503.2,329.8 L502.7,329.6 L502.2,329.4 L501.7,329.2 L501.2,329.1 L500.7,329.2 L500.2,329.9 L499.7,331.1 L499.2,332.7 L498.7,331.1 L498.2,338.7 L497.7,338.7 L497.2,338.7 L496.7,340.7 L496.2,344.2 L495.7,348.3 L495.2,351.7 L494.7,361.1 L494.2,361.1 L493.7,361.1 L493.2,361.1 L492.7,361.1 L492.2,356.6 L491.7,354.6 L491.2,352.4 L490.7,350.2 L490.2,346.8 L489.7,343.7 L489.2,343.7 L488.7,343.7 L488.2,333.5 L487.7,331.8 L487.2,333.7 L486.7,333.7 L486.2,333.7 L485.7,333.7 L485.2,333.7 L484.7,331.6 L484.2,329.4 L483.7,334.5 L483.2,369.0 L482.7,369.0 L482.2,369.0 L481.7,369.0 L481.2,389.3 L480.7,397.3 L480.2,405.7 L479.7,433.9 L479.2,433.9 L478.7,433.9 L478.2,442.5 L477.7,450.3 L477.2,457.1 L476.7,463.0 L476.2,468.4 L475.7,478.8 L475.2,478.8 L474.7,482.1 L474.2,487.2 L473.7,489.8 L473.2,493.1 L472.7,501.2 L472.2,501.2 L471.7,501.5 L471.2,502.5 L470.7,502.4 L470.2,502.0 L469.7,501.3 L469.2,495.1 L468.7,492.6 L468.2,489.0 L467.7,484.7 L467.2,483.8 L466.7,483.8 L466.2,483.8 L465.7,472.7 L465.2,467.4 L464.7,460.9 L464.2,453.1 L463.7,442.6 L463.2,433.9 L462.7,433.9 L462.2,389.3 L461.7,379.2 L461.2,372.7 L460.7,367.3 L460.2,362.0 L459.7,355.8 L459.2,348.4 L458.7,340.4 L458.2,332.6 L457.7,320.6 L457.2,318.7 L456.7,318.7 L456.2,318.7 L455.7,297.9 L455.2,293.0 L454.7,290.4 L454.2,292.2 L453.7,294.6 L453.2,301.2 L452.7,301.2 L452.2,303.2 L451.7,306.5 L451.2,312.8 L450.7,318.4 L450.2,324.6 L449.7,343.7 L449.2,343.7 L448.7,344.8 L448.2,348.3 L447.7,346.6 L447.2,349.5 L446.7,352.5 L446.2,355.4 L445.7,361.5 L445.2,361.5 L444.7,361.8 L444.2,365.7 L443.7,371.8 L443.2,377.4 L442.7,382.4 L442.2,393.9 L441.7,393.9 L441.2,393.9 L440.7,393.9 L440.2,393.9 L439.7,386.9 L439.2,382.9 L438.7,378.8 L438.2,374.1 L437.7,368.6 L437.2,363.2 L436.7,361.5 L436.2,361.5 L435.7,356.0 L435.2,354.6 L434.7,353.2 L434.2,352.3 L433.7,351.6 L433.2,351.4 L432.7,352.0 L432.2,364.0 L431.7,364.0 L431.2,365.6 L430.7,366.8 L430.2,367.0 L429.7,367.7 L429.2,368.9 L428.7,370.8 L428.2,384.0 L427.7,384.0 L427.2,390.7 L426.7,398.1 L426.2,406.7 L425.7,413.2 L425.2,425.1 L424.7,425.1 L424.2,425.1 L423.7,425.1 L423.2,425.1 L422.7,420.3 L422.2,421.6 L421.7,418.1 L421.2,413.0 L420.7,406.5 L420.2,399.5 L419.7,392.4 L419.2,391.4 L418.7,391.4 L418.2,369.1 L417.7,364.2 L417.2,362.1 L416.7,361.7 L416.2,361.7 L415.7,371.5 L415.2,371.6 L414.7,373.9 L414.2,371.5 L413.7,371.5 L413.2,346.8 L412.7,339.2 L412.2,331.2 L411.7,322.6 L411.2,318.7 L410.7,318.7 L410.2,318.7 L409.7,290.9 L409.2,286.9 L408.7,284.5 L408.2,282.7 L407.7,281.5 L407.2,288.8 L406.7,288.8 L406.2,290.2 L405.7,289.8 L405.2,289.3 L404.7,289.3 L404.2,290.5 L403.7,292.9 L403.2,296.3 L402.7,294.6 L402.2,308.7 L401.7,308.7 L401.2,308.7 L400.7,309.0 L400.2,313.6 L399.7,318.2 L399.2,322.5 L398.7,333.6 L398.2,336.8 L397.7,338.9 L397.2,340.4 L396.7,341.5 L396.2,342.0 L395.7,342.1 L395.2,342.0 L394.7,341.1 L394.2,333.6 L393.7,330.5 L393.2,328.7 L392.7,328.7 L392.2,328.7 L391.7,328.7 L391.2,330.2 L390.7,335.4 L390.2,338.5 L389.7,341.9 L389.2,346.1 L388.7,347.4 L388.2,366.5 L387.7,366.5 L387.2,366.5 L386.7,366.5 L386.2,374.9 L385.7,378.3 L385.2,383.0 L384.7,388.9 L384.2,388.7 L383.7,394.9 L383.2,408.9 L382.7,408.9 L382.2,409.3 L381.7,416.4 L381.2,423.0 L380.7,429.1 L380.2,434.8 L379.7,453.8 L379.2,453.8 L378.7,453.8 L378.2,455.8 L377.7,461.9 L377.2,467.9 L376.7,473.4 L376.2,486.2 L375.7,486.2 L375.2,486.2 L374.7,486.2 L374.2,486.2 L373.7,471.5 L373.2,465.8 L372.7,459.7 L372.2,458.8 L371.7,458.8 L371.2,458.8 L370.7,439.4 L370.2,430.4 L369.7,421.4 L369.2,421.4 L368.7,397.3 L368.2,390.0 L367.7,384.5 L367.2,379.8 L366.7,375.9 L366.2,372.4 L365.7,359.4 L365.2,356.4 L364.7,353.5 L364.2,350.6 L363.7,348.6 L363.2,348.6 L362.7,348.6 L362.2,348.6 L361.7,348.6 L361.2,334.0 L360.7,331.2 L360.2,331.2 L359.7,331.2 L359.2,331.2 L358.7,321.8 L358.2,320.4 L357.7,327.3 L357.2,326.7 L356.7,326.5 L356.2,326.6 L355.7,328.3 L355.2,330.1 L354.7,332.1 L354.2,334.2 L353.7,343.7 L353.2,343.7 L352.7,343.7 L352.2,343.7 L351.7,347.5 L351.2,353.7 L350.7,360.6 L350.2,368.2 L349.7,408.9 L349.2,408.9 L348.7,408.9 L348.2,420.1 L347.7,433.7 L347.2,446.0 L346.7,455.6 L346.2,473.8 L345.7,473.8 L345.2,473.8 L344.7,475.5 L344.2,484.9 L343.7,493.4 L343.2,500.8 L342.7,506.9 L342.2,511.4 L341.7,523.7 L341.2,523.7 L340.7,523.7 L340.2,526.2 L339.7,525.2 L339.2,524.0 L338.7,522.1 L338.2,519.7 L337.7,510.5 L337.2,507.1 L336.7,503.4 L336.2,499.4 L335.7,498.7 L335.2,498.7 L334.7,498.7 L334.2,486.2 L333.7,482.5 L333.2,484.0 L332.7,479.8 L332.2,475.6 L331.7,471.8 L331.2,468.6 L330.7,466.0 L330.2,463.8 L329.7,463.8 L329.2,449.3 L328.7,446.6 L328.2,444.3 L327.7,442.7 L327.2,441.7 L326.7,446.3 L326.2,446.4 L325.7,446.6 L325.2,446.6 L324.7,446.7 L324.2,447.0 L323.7,447.3 L323.2,448.0 L322.7,443.3 L322.2,445.3 L321.7,458.8 L321.2,458.8 L320.7,458.8 L320.2,458.8 L319.7,459.8 L319.2,462.6 L318.7,465.6 L318.2,470.8 L317.7,473.8 L317.2,476.5 L316.7,482.5 L316.2,482.5 L315.7,482.5 L315.2,482.5 L314.7,482.5 L314.2,473.1 L313.7,470.8 L313.2,468.0 L312.7,465.2 L312.2,462.3 L311.7,469.0 L311.2,465.3 L310.7,460.4 L310.2,458.8 L309.7,458.8 L309.2,438.6 L308.7,432.9 L308.2,427.9 L307.7,423.3 L307.2,418.8 L306.7,416.4 L306.2,416.4 L305.7,411.8 L305.2,411.1 L304.7,411.1 L304.2,412.1 L303.7,414.2 L303.2,423.9 L302.7,423.9 L302.2,423.9 L301.7,423.9 L301.2,423.9 L300.7,421.6 L300.2,420.2 L299.7,417.5 L299.2,414.0 L298.7,420.1 L298.2,417.0 L297.7,414.1 L297.2,412.4 L296.7,411.9 L296.2,412.1 L295.7,412.9 L295.2,414.5 L294.7,416.9 L294.2,420.1 L293.7,422.3 L293.2,433.9 L292.7,433.9 L292.2,434.8 L291.7,439.9 L291.2,442.9 L290.7,449.6 L290.2,456.4 L289.7,462.7 L289.2,468.1 L288.7,471.8 L288.2,478.2 L287.7,479.3 L287.2,480.0 L286.7,480.6 L286.2,481.3 L285.7,482.7 L285.2,485.4 L284.7,488.7 L284.2,491.8 L283.7,495.0 L283.2,498.1 L282.7,500.9 L282.2,501.9 L281.7,503.6 L281.2,504.6 L280.7,504.5 L280.2,503.4 L279.7,502.5 L279.2,488.6 L278.7,486.3 L278.2,483.3 L277.7,479.0 L277.2,483.1 L276.7,476.3 L276.2,469.2 L275.7,463.8 L275.2,463.8 L274.7,463.8 L274.2,444.5 L273.7,440.3 L273.2,431.4 L272.7,431.4 L272.2,431.4 L271.7,431.4 L271.2,431.4 L270.7,423.5 L270.2,434.3 L269.7,435.5 L269.2,436.7 L268.7,437.9 L268.2,438.8 L267.7,439.4 L267.2,438.8 L266.7,438.8 L266.2,438.8 L265.7,438.4 L265.2,438.2 L264.7,437.9 L264.2,440.4 L263.7,440.0 L263.2,439.5 L262.7,439.0 L262.2,438.5 L261.7,437.7 L261.2,436.6 L260.7,434.2 L260.2,432.4 L259.7,430.4 L259.2,428.9 L258.7,428.9 L258.2,422.1 L257.7,419.2 L257.2,416.2 L256.7,413.3 L256.2,406.5 L255.7,403.8 L255.2,401.4 L254.7,401.4 L254.2,401.4 L253.7,401.4 L253.2,390.5 L252.7,388.1 L252.2,386.0 L251.7,386.4 L251.2,386.4 L250.7,386.4 L250.2,386.4 L249.7,386.4 L249.2,386.6 L248.7,386.8 L248.2,387.1 L247.7,387.4 L247.2,387.7 L246.7,388.0 L246.2,388.3 L245.7,388.4 L245.2,388.6 L244.7,388.7 L244.2,391.5 L243.7,391.6 L243.2,391.7 L242.7,391.9 L242.2,388.9 L241.7,388.9 L241.2,388.9 L240.7,389.6 L240.2,391.6 L239.7,395.1 L239.2,396.8 L238.7,402.1 L238.2,421.4 L237.7,421.4 L237.2,424.5 L236.7,430.5 L236.2,436.6 L235.7,443.0 L235.2,449.6 L234.7,456.6 L234.2,463.9 L233.7,471.8 L233.2,498.7 L232.7,498.7 L232.2,498.7 L231.7,500.8 L231.2,509.9 L230.7,517.2 L230.2,523.7 L229.7,529.7 L229.2,549.9 L228.7,549.9 L228.2,550.0 L227.7,550.3 L227.2,549.9 L226.7,541.3 L226.2,537.6 L225.7,532.7 L225.2,526.0 L224.7,517.6 L224.2,508.1 L223.7,498.7 L223.2,498.7 L222.7,498.7 L222.2,476.7 L221.7,466.6 L221.2,456.3 L220.7,445.7 L220.2,434.4 L219.7,421.6 L219.2,421.4 L218.7,421.4 L218.2,371.5 L217.7,371.5 L217.2,331.2 L216.7,331.6 L216.2,322.3 L215.7,314.2 L215.2,307.7 L214.7,303.0 L214.2,300.6 L213.7,303.1 L213.2,306.4 L212.7,308.9 L212.2,312.2 L211.7,315.7 L211.2,319.5 L210.7,334.0 L210.2,334.0 L209.7,334.0 L209.2,337.2 L208.7,342.5 L208.2,348.3 L207.7,362.2 L207.2,369.6 L206.7,376.9 L206.2,383.8 L205.7,401.4 L205.2,401.4 L204.7,401.4 L204.2,405.8 L203.7,410.3 L203.2,412.4 L202.7,416.4 L202.2,419.9 L201.7,422.9 L201.2,425.1 L200.7,430.1 L200.2,430.1 L199.7,430.1 L199.2,430.1 L198.7,430.1 L198.2,427.8 L197.7,423.9 L197.2,418.8 L196.7,413.6 L196.2,408.9 L195.7,405.0 L195.2,401.8 L194.7,396.4 L194.2,396.4 L193.7,396.4 L193.2,374.2 L192.7,367.4 L192.2,360.3 L191.7,352.9 L191.2,345.4 L190.7,344.0 L190.2,344.0 L189.7,325.1 L189.2,321.6 L188.7,318.1 L188.2,314.6 L187.7,311.1 L187.2,307.6 L186.7,308.5 L186.2,305.2 L185.7,302.2 L185.2,299.5 L184.7,305.3 L184.2,303.1 L183.7,301.0 L183.2,299.1 L182.7,297.9 L182.2,297.5 L181.7,296.6 L181.2,296.6 L180.7,296.6 L180.2,296.6 L179.7,292.2 L179.2,293.1 L178.7,302.9 L178.2,304.4 L177.7,305.5 L177.2,305.6 L176.7,304.5 L176.2,302.8 L175.7,301.0 L175.2,299.2 L174.7,297.5 L174.2,293.1 L173.7,292.4 L173.2,293.3 L172.7,296.6 L172.2,301.8 L171.7,308.2 L171.2,310.4 L170.7,339.0 L170.2,339.0 L169.7,339.0 L169.2,345.1 L168.7,353.9 L168.2,362.8 L167.7,372.6 L167.2,408.9 L166.7,408.9 L166.2,408.9 L165.7,414.4 L165.2,422.4 L164.7,427.9 L164.2,437.4 L163.7,441.1 L163.2,444.5 L162.7,448.8 L162.2,449.9 L161.7,450.7 L161.2,450.6 L160.7,449.8 L160.2,448.5 L159.7,446.7 L159.2,434.5 L158.7,432.2 L158.2,433.9 L157.7,433.9 L157.2,433.9 L156.7,433.9 L156.2,433.9 L155.7,429.7 L155.2,429.7 L154.7,428.8 L154.2,429.6 L153.7,430.6 L153.2,436.3 L152.7,436.3 L152.2,436.3 L151.7,436.3 L151.2,436.3 L150.7,427.7 L150.2,426.2 L149.7,424.4 L149.2,422.8 L148.7,421.9 L148.2,420.4 L147.7,420.6 L147.2,420.9 L146.7,421.5 L146.2,422.1 L145.7,433.9 L145.2,433.9 L144.7,433.9 L144.2,434.6 L143.7,436.3 L143.2,440.7 L142.7,443.3 L142.2,446.3 L141.7,449.4 L141.2,444.1 L140.7,458.8 L140.2,458.8 L139.7,458.8 L139.2,458.8 L138.7,462.1 L138.2,466.4 L137.7,470.7 L137.2,483.7 L136.7,488.0 L136.2,492.3 L135.7,501.2 L135.2,501.2 L134.7,504.9 L134.2,509.5 L133.7,514.4 L133.2,519.3 L132.7,524.1 L132.2,533.7 L131.7,533.7 L131.2,533.7 L130.7,533.7 L130.2,539.1 L129.7,539.3 L129.2,538.4 L128.7,536.7 L128.2,532.7 L127.7,530.0 L127.2,528.7 L126.7,528.7 L126.2,528.7 L125.7,507.2 L125.2,501.9 L124.7,496.7 L124.2,492.7 L123.7,499.6 L123.2,499.1 L122.7,499.2 L122.2,499.3 L121.7,499.0 L121.2,498.2 L120.7,492.1 L120.2,488.9 L119.7,484.3 L119.2,478.9 L118.7,473.0 L118.2,466.8 L117.7,460.8 L117.2,458.8 L116.7,458.8 L116.2,432.6 L115.7,424.5 L115.2,416.7 L114.7,409.8 L114.2,408.9 L113.7,408.9 L113.2,408.9 L112.7,411.1 L112.2,412.6 L111.7,414.1 L111.2,418.9 L110.7,418.9 L110.2,418.9 L109.7,418.9 L109.2,418.9 L108.7,407.3 L108.2,404.7 L107.7,402.1 L107.2,399.3 L106.7,396.4 L106.2,393.3 L105.7,391.4 L105.2,391.4 L104.7,391.4 L104.2,391.4 L103.7,380.6 L103.2,384.0 L102.7,384.0 L102.2,384.0Z" fill="#4f4f4f" stroke="#4f4f4f" stroke-width="0.8" stroke-linejoin="round"/>
<path d="M102.2,345.4 L102.7,345.2 L103.2,347.6 L103.7,349.6 L104.2,351.6 L104.7,354.7 L105.2,356.7 L105.7,358.9 L106.2,362.0 L106.7,363.4 L107.2,364.9 L107.7,367.3 L108.2,368.8 L108.7,369.9 L109.2,372.7 L109.7,374.0 L110.2,375.7 L110.7,376.9 L111.2,377.2 L111.7,376.9 L112.2,377.7 L112.7,376.7 L113.2,377.9 L113.7,379.5 L114.2,381.1 L114.7,386.9 L115.2,392.4 L115.7,399.7 L116.2,406.6 L116.7,412.2 L117.2,418.0 L117.7,424.0 L118.2,429.4 L118.7,435.2 L119.2,440.1 L119.7,445.6 L120.2,449.6 L120.7,452.6 L121.2,451.9 L121.7,450.1 L122.2,449.2 L122.7,448.5 L123.2,448.1 L123.7,448.1 L124.2,450.7 L124.7,455.1 L125.2,460.4 L125.7,465.3 L126.2,468.8 L126.7,472.3 L127.2,475.6 L127.7,479.5 L128.2,482.8 L128.7,487.1 L129.2,490.1 L129.7,491.7 L130.2,493.5 L130.7,494.5 L131.2,492.8 L131.7,490.7 L132.2,486.8 L132.7,482.5 L133.2,479.8 L133.7,475.0 L134.2,471.5 L134.7,467.4 L135.2,463.5 L135.7,461.2 L136.2,458.4 L136.7,454.1 L137.2,451.0 L137.7,447.3 L138.2,443.7 L138.7,438.9 L139.2,434.8 L139.7,430.9 L140.2,428.2 L140.7,423.5 L141.2,419.3 L141.7,414.8 L142.2,411.8 L142.7,409.0 L143.2,405.3 L143.7,402.8 L144.2,401.0 L144.7,398.8 L145.2,397.6 L145.7,396.6 L146.2,395.0 L146.7,393.3 L147.2,393.7 L147.7,393.1 L148.2,392.3 L148.7,392.7 L149.2,393.5 L149.7,395.5 L150.2,397.5 L150.7,397.4 L151.2,398.2 L151.7,398.2 L152.2,399.4 L152.7,399.5 L153.2,399.5 L153.7,398.6 L154.2,399.3 L154.7,398.5 L155.2,399.5 L155.7,399.4 L156.2,399.2 L156.7,399.5 L157.2,401.2 L157.7,403.7 L158.2,405.9 L158.7,407.6 L159.2,409.0 L159.7,410.8 L160.2,412.1 L160.7,412.8 L161.2,413.3 L161.7,413.2 L162.2,411.8 L162.7,409.9 L163.2,408.6 L163.7,406.4 L164.2,403.0 L164.7,399.5 L165.2,393.4 L165.7,386.1 L166.2,376.0 L166.7,363.6 L167.2,351.0 L167.7,338.0 L168.2,325.7 L168.7,315.5 L169.2,304.6 L169.7,294.4 L170.2,285.2 L170.7,275.6 L171.2,267.6 L171.7,261.4 L172.2,254.6 L172.7,248.6 L173.2,244.0 L173.7,242.0 L174.2,243.1 L174.7,244.5 L175.2,246.4 L175.7,248.0 L176.2,249.5 L176.7,251.1 L177.2,251.6 L177.7,251.2 L178.2,250.8 L178.7,249.5 L179.2,247.2 L179.7,245.4 L180.2,244.7 L180.7,245.1 L181.2,244.5 L181.7,243.9 L182.2,243.2 L182.7,244.7 L183.2,246.9 L183.7,248.6 L184.2,252.2 L184.7,255.5 L185.2,259.1 L185.7,263.9 L186.2,267.5 L186.7,272.4 L187.2,277.5 L187.7,282.9 L188.2,286.2 L188.7,290.7 L189.2,294.6 L189.7,299.5 L190.2,305.0 L190.7,309.5 L191.2,314.7 L191.7,319.3 L192.2,322.7 L192.7,326.7 L193.2,330.7 L193.7,334.1 L194.2,336.8 L194.7,340.3 L195.2,345.5 L195.7,350.3 L196.2,354.4 L196.7,361.3 L197.2,365.9 L197.7,371.9 L198.2,377.3 L198.7,380.3 L199.2,382.5 L199.7,386.2 L200.2,386.8 L200.7,388.1 L201.2,388.4 L201.7,388.3 L202.2,387.0 L202.7,385.5 L203.2,382.5 L203.7,380.6 L204.2,378.0 L204.7,375.5 L205.2,372.2 L205.7,368.2 L206.2,363.3 L206.7,357.8 L207.2,352.2 L207.7,347.4 L208.2,341.9 L208.7,336.7 L209.2,331.3 L209.7,327.0 L210.2,323.0 L210.7,318.9 L211.2,313.9 L211.7,310.2 L212.2,306.6 L212.7,303.1 L213.2,299.5 L213.7,296.6 L214.2,294.8 L214.7,294.1 L215.2,295.1 L215.7,297.3 L216.2,301.8 L216.7,308.2 L217.2,314.0 L217.7,320.3 L218.2,328.4 L218.7,338.4 L219.2,350.5 L219.7,363.0 L220.2,375.9 L220.7,388.3 L221.2,401.2 L221.7,412.6 L222.2,424.8 L222.7,436.0 L223.2,447.6 L223.7,456.6 L224.2,466.2 L224.7,477.2 L225.2,486.9 L225.7,493.6 L226.2,499.1 L226.7,503.5 L227.2,507.1 L227.7,509.3 L228.2,509.4 L228.7,508.1 L229.2,504.6 L229.7,500.0 L230.2,493.1 L230.7,487.4 L231.2,481.6 L231.7,472.6 L232.2,461.1 L232.7,450.0 L233.2,439.9 L233.7,431.7 L234.2,424.0 L234.7,416.8 L235.2,410.1 L235.7,403.3 L236.2,397.2 L236.7,392.1 L237.2,385.7 L237.7,379.1 L238.2,371.1 L238.7,364.8 L239.2,359.4 L239.7,352.7 L240.2,346.8 L240.7,344.2 L241.2,343.5 L241.7,343.5 L242.2,342.4 L242.7,341.5 L243.2,341.3 L243.7,341.9 L244.2,341.5 L244.7,340.4 L245.2,340.8 L245.7,340.2 L246.2,340.2 L246.7,340.7 L247.2,340.4 L247.7,340.1 L248.2,340.0 L248.7,338.9 L249.2,339.3 L249.7,339.3 L250.2,338.1 L250.7,337.4 L251.2,337.8 L251.7,338.1 L252.2,340.0 L252.7,342.2 L253.2,343.0 L253.7,344.9 L254.2,346.5 L254.7,347.4 L255.2,350.3 L255.7,352.6 L256.2,354.1 L256.7,356.5 L257.2,361.1 L257.7,363.6 L258.2,367.0 L258.7,369.3 L259.2,371.5 L259.7,374.3 L260.2,376.0 L260.7,376.2 L261.2,378.4 L261.7,379.9 L262.2,380.4 L262.7,381.2 L263.2,382.1 L263.7,382.7 L264.2,383.4 L264.7,383.2 L265.2,383.5 L265.7,383.6 L266.2,383.9 L266.7,383.1 L267.2,383.2 L267.7,382.4 L268.2,381.5 L268.7,380.7 L269.2,380.7 L269.7,378.5 L270.2,376.7 L270.7,374.9 L271.2,374.5 L271.7,374.4 L272.2,374.7 L272.7,375.0 L273.2,378.3 L273.7,381.3 L274.2,387.3 L274.7,392.9 L275.2,398.5 L275.7,403.8 L276.2,411.0 L276.7,418.4 L277.2,425.9 L277.7,431.5 L278.2,435.7 L278.7,438.4 L279.2,442.1 L279.7,445.5 L280.2,447.9 L280.7,451.1 L281.2,452.4 L281.7,451.8 L282.2,452.2 L282.7,450.8 L283.2,449.5 L283.7,447.2 L284.2,445.5 L284.7,442.8 L285.2,441.7 L285.7,441.0 L286.2,440.2 L286.7,439.7 L287.2,439.7 L287.7,439.6 L288.2,439.1 L288.7,437.2 L289.2,433.3 L289.7,428.8 L290.2,423.0 L290.7,415.8 L291.2,407.4 L291.7,401.1 L292.2,395.5 L292.7,389.9 L293.2,385.2 L293.7,380.7 L294.2,376.7 L294.7,374.6 L295.2,372.2 L295.7,370.5 L296.2,368.3 L296.7,368.3 L297.2,367.9 L297.7,370.6 L298.2,374.0 L298.7,377.8 L299.2,381.5 L299.7,386.8 L300.2,389.1 L300.7,391.7 L301.2,392.2 L301.7,389.6 L302.2,387.1 L302.7,383.8 L303.2,380.8 L303.7,379.4 L304.2,377.6 L304.7,378.1 L305.2,379.3 L305.7,379.3 L306.2,381.2 L306.7,383.5 L307.2,386.0 L307.7,388.8 L308.2,391.2 L308.7,393.3 L309.2,397.4 L309.7,402.3 L310.2,407.7 L310.7,412.9 L311.2,417.6 L311.7,422.3 L312.2,426.0 L312.7,428.9 L313.2,433.1 L313.7,436.4 L314.2,439.9 L314.7,442.9 L315.2,444.5 L315.7,445.7 L316.2,445.7 L316.7,444.4 L317.2,442.1 L317.7,438.8 L318.2,434.4 L318.7,430.2 L319.2,425.9 L319.7,422.2 L320.2,420.0 L320.7,415.0 L321.2,411.5 L321.7,407.0 L322.2,404.3 L322.7,402.4 L323.2,400.7 L323.7,397.1 L324.2,396.2 L324.7,394.2 L325.2,393.4 L325.7,392.6 L326.2,391.9 L326.7,390.8 L327.2,393.2 L327.7,393.1 L328.2,395.1 L328.7,397.6 L329.2,400.4 L329.7,403.6 L330.2,404.8 L330.7,406.6 L331.2,411.6 L331.7,416.0 L332.2,420.7 L332.7,425.4 L333.2,430.3 L333.7,435.8 L334.2,442.0 L334.7,445.7 L335.2,448.8 L335.7,453.7 L336.2,457.1 L336.7,461.2 L337.2,465.4 L337.7,467.9 L338.2,471.0 L338.7,473.3 L339.2,475.9 L339.7,478.0 L340.2,479.1 L340.7,479.9 L341.2,480.6 L341.7,480.3 L342.2,480.3 L342.7,478.6 L343.2,474.4 L343.7,470.0 L344.2,463.9 L344.7,457.6 L345.2,451.2 L345.7,443.6 L346.2,434.7 L346.7,424.5 L347.2,411.4 L347.7,395.2 L348.2,376.6 L348.7,358.7 L349.2,343.8 L349.7,331.3 L350.2,322.2 L350.7,314.6 L351.2,307.5 L351.7,302.5 L352.2,297.1 L352.7,293.1 L353.2,291.5 L353.7,289.2 L354.2,287.3 L354.7,285.5 L355.2,283.3 L355.7,282.3 L356.2,282.3 L356.7,281.3 L357.2,280.7 L357.7,280.8 L358.2,281.7 L358.7,283.6 L359.2,285.3 L359.7,287.0 L360.2,287.5 L360.7,289.3 L361.2,291.7 L361.7,295.1 L362.2,298.7 L362.7,302.4 L363.2,305.8 L363.7,310.7 L364.2,315.6 L364.7,319.6 L365.2,322.5 L365.7,325.3 L366.2,330.1 L366.7,333.6 L367.2,339.1 L367.7,345.0 L368.2,351.5 L368.7,360.9 L369.2,373.6 L369.7,386.5 L370.2,398.4 L370.7,405.6 L371.2,412.2 L371.7,419.3 L372.2,425.0 L372.7,430.5 L373.2,435.4 L373.7,439.6 L374.2,445.2 L374.7,448.4 L375.2,450.0 L375.7,449.0 L376.2,446.6 L376.7,443.3 L377.2,439.7 L377.7,434.2 L378.2,430.7 L378.7,426.2 L379.2,423.0 L379.7,419.4 L380.2,414.7 L380.7,409.4 L381.2,406.0 L381.7,400.3 L382.2,394.7 L382.7,387.3 L383.2,379.4 L383.7,370.0 L384.2,359.8 L384.7,348.6 L385.2,338.0 L385.7,328.0 L386.2,319.7 L386.7,312.2 L387.2,305.9 L387.7,299.9 L388.2,293.9 L388.7,288.2 L389.2,283.6 L389.7,280.1 L390.2,278.1 L390.7,276.8 L391.2,274.2 L391.7,273.1 L392.2,271.8 L392.7,273.6 L393.2,277.8 L393.7,281.9 L394.2,286.4 L394.7,289.6 L395.2,291.4 L395.7,293.6 L396.2,294.3 L396.7,294.1 L397.2,294.8 L397.7,295.4 L398.2,294.0 L398.7,292.1 L399.2,288.6 L399.7,285.5 L400.2,281.6 L400.7,276.8 L401.2,272.9 L401.7,267.6 L402.2,264.0 L402.7,260.3 L403.2,256.0 L403.7,252.6 L404.2,249.8 L404.7,247.3 L405.2,245.8 L405.7,244.2 L406.2,241.9 L406.7,241.4 L407.2,241.0 L407.7,242.9 L408.2,245.2 L408.7,248.1 L409.2,251.3 L409.7,256.6 L410.2,264.2 L410.7,272.8 L411.2,282.8 L411.7,291.1 L412.2,297.7 L412.7,304.0 L413.2,309.7 L413.7,315.2 L414.2,320.3 L414.7,322.0 L415.2,322.0 L415.7,322.1 L416.2,321.8 L416.7,321.3 L417.2,320.6 L417.7,321.8 L418.2,326.4 L418.7,333.6 L419.2,341.6 L419.7,348.8 L420.2,356.4 L420.7,363.0 L421.2,370.5 L421.7,375.5 L422.2,378.3 L422.7,380.7 L423.2,382.6 L423.7,384.9 L424.2,385.9 L424.7,386.1 L425.2,383.4 L425.7,379.8 L426.2,375.4 L426.7,368.3 L427.2,359.1 L427.7,346.8 L428.2,337.7 L428.7,329.6 L429.2,324.2 L429.7,319.4 L430.2,315.9 L430.7,312.6 L431.2,310.0 L431.7,306.9 L432.2,306.9 L432.7,307.1 L433.2,308.2 L433.7,308.9 L434.2,311.0 L434.7,314.2 L435.2,317.5 L435.7,320.5 L436.2,324.8 L436.7,328.9 L437.2,334.1 L437.7,338.7 L438.2,341.9 L438.7,344.6 L439.2,347.0 L439.7,348.5 L440.2,351.4 L440.7,352.7 L441.2,354.1 L441.7,352.7 L442.2,351.1 L442.7,350.6 L443.2,348.3 L443.7,343.5 L444.2,338.9 L444.7,334.4 L445.2,331.2 L445.7,325.5 L446.2,319.1 L446.7,311.1 L447.2,304.9 L447.7,298.6 L448.2,293.0 L448.7,285.8 L449.2,280.9 L449.7,275.9 L450.2,271.0 L450.7,264.9 L451.2,261.9 L451.7,258.2 L452.2,255.7 L452.7,255.1 L453.2,253.8 L453.7,253.1 L454.2,252.7 L454.7,252.3 L455.2,253.3 L455.7,257.2 L456.2,261.5 L456.7,266.1 L457.2,270.5 L457.7,276.1 L458.2,284.0 L458.7,292.0 L459.2,298.7 L459.7,306.6 L460.2,312.3 L460.7,318.2 L461.2,325.2 L461.7,332.6 L462.2,342.3 L462.7,361.0 L463.2,381.8 L463.7,398.9 L464.2,409.6 L464.7,416.8 L465.2,424.1 L465.7,429.1 L466.2,434.1 L466.7,439.6 L467.2,444.3 L467.7,448.6 L468.2,453.7 L468.7,455.9 L469.2,457.3 L469.7,456.9 L470.2,457.4 L470.7,457.1 L471.2,455.7 L471.7,454.7 L472.2,454.3 L472.7,454.4 L473.2,454.9 L473.7,453.1 L474.2,452.4 L474.7,450.4 L475.2,447.0 L475.7,441.0 L476.2,434.9 L476.7,429.8 L477.2,424.0 L477.7,416.0 L478.2,407.2 L478.7,398.4 L479.2,387.8 L479.7,377.6 L480.2,366.7 L480.7,356.8 L481.2,347.0 L481.7,338.2 L482.2,329.2 L482.7,319.9 L483.2,310.8 L483.7,303.3 L484.2,299.4 L484.7,297.4 L485.2,296.0 L485.7,295.2 L486.2,294.3 L486.7,294.2 L487.2,295.3 L487.7,296.5 L488.2,298.8 L488.7,302.3 L489.2,305.7 L489.7,309.5 L490.2,312.6 L490.7,315.5 L491.2,316.9 L491.7,317.6 L492.2,318.4 L492.7,318.8 L493.2,319.2 L493.7,318.3 L494.2,317.5 L494.7,314.9 L495.2,311.4 L495.7,306.4 L496.2,302.4 L496.7,298.2 L497.2,294.9 L497.7,293.0 L498.2,289.4 L498.7,287.1 L499.2,285.2 L499.7,283.1 L500.2,281.6 L500.7,280.5 L501.2,279.9 L501.7,280.0 L502.2,279.9 L502.7,280.0 L503.2,280.2 L503.7,281.4 L504.2,282.0 L504.7,282.5 L505.2,282.1 L505.7,283.2 L506.2,285.0 L506.7,284.8 L507.2,285.8 L507.7,286.6 L508.2,287.8 L508.7,289.1 L509.2,290.7 L509.7,291.9 L510.2,294.6 L510.7,296.3 L511.2,298.3 L511.7,299.8 L512.2,303.1 L512.7,306.8 L513.2,310.5 L513.7,312.2 L514.2,316.8 L514.7,320.8 L515.2,324.5 L515.7,327.9 L516.2,330.8 L516.7,333.9 L517.2,338.0 L517.7,340.7 L518.2,343.6 L518.7,348.1 L519.2,353.0 L519.7,357.4 L520.2,364.0 L520.7,371.3 L521.2,381.3 L521.7,390.9 L522.2,399.1 L522.7,405.6 L523.2,412.9 L523.7,418.3 L524.2,420.5 L524.7,419.8 L525.2,417.4 L525.7,412.8 L526.2,409.4 L526.7,404.0 L527.2,396.0 L527.7,386.3 L528.2,373.0 L528.7,359.3 L529.2,348.7 L529.7,341.4 L530.2,337.2 L530.7,335.5 L531.2,333.7 L531.7,331.8 L532.2,329.2 L532.7,327.1 L533.2,325.6 L533.7,324.9 L534.2,324.4 L534.7,324.2 L535.2,324.0 L535.7,324.8 L536.2,324.5 L536.7,325.8 L537.2,325.7 L537.7,327.0 L538.2,328.1 L538.7,328.5 L539.2,329.6 L539.7,332.7 L540.2,335.8 L540.7,339.3 L541.2,342.7 L541.7,347.3 L542.2,352.2 L542.7,358.2 L543.2,364.0 L543.7,371.7 L544.2,378.9 L544.7,384.8 L545.2,390.2 L545.7,397.2 L546.2,403.3 L546.7,409.8 L547.2,414.9 L547.7,419.2 L548.2,423.7 L548.7,429.0 L549.2,432.2 L549.7,434.5 L550.2,436.2 L550.7,436.1 L551.2,436.6 L551.7,435.1 L552.2,431.6 L552.7,427.8 L553.2,423.8 L553.7,420.9 L554.2,418.4 L554.7,415.7 L555.2,412.6 L555.7,409.8 L556.2,408.1 L556.7,408.0 L557.2,409.3 L557.7,412.0 L558.2,415.9 L558.7,420.0 L559.2,424.1 L559.7,428.6 L560.2,433.2 L560.7,437.2 L561.2,440.6 L561.7,443.3 L562.2,444.5 L562.7,445.2 L563.2,445.3 L563.7,446.2 L564.2,447.2 L564.7,447.8 L565.2,448.0 L565.7,448.1 L566.2,447.6 L566.7,445.8 L567.2,443.7 L567.7,441.4 L568.2,439.7 L568.7,439.4 L569.2,441.6 L569.7,443.3 L570.2,445.0 L570.7,446.5 L571.2,446.5 L571.7,445.1 L572.2,442.0 L572.7,437.4 L573.2,431.7 L573.7,427.5 L574.2,423.2 L574.7,416.8 L575.2,410.6 L575.7,405.5 L576.2,401.4 L576.7,397.0 L577.2,392.7 L577.7,387.9 L578.2,385.1 L578.7,382.8 L579.2,382.1 L579.7,383.6 L580.2,387.4 L580.7,390.5 L581.2,394.2 L581.7,397.3 L582.2,400.7 L582.7,403.4 L583.2,406.3 L583.7,409.1 L584.2,410.8 L584.7,411.9 L585.2,413.2 L585.7,413.8 L586.2,414.5 L586.7,414.0 L587.2,412.9 L587.7,412.0 L588.2,412.3 L588.7,412.2 L589.2,413.1 L589.7,412.8 L590.2,412.5 L590.7,413.6 L591.2,413.5 L591.7,414.0 L592.2,414.3 L592.7,414.4 L593.2,415.1 L593.7,415.0 L594.2,416.8 L594.7,422.4 L595.2,431.3 L595.7,437.1 L596.2,438.9 L596.7,440.5 L597.2,443.6 L597.7,444.8 L598.2,445.8 L598.7,446.8 L599.2,447.5 L599.7,448.2 L600.2,448.2 L600.7,446.8 L601.2,445.4 L601.7,442.8 L602.2,439.3 L602.7,434.1 L603.2,431.0 L603.7,425.5 L604.2,420.6 L604.7,415.3 L605.2,409.9 L605.7,405.1 L606.2,399.2 L606.7,392.9 L607.2,387.0 L607.7,379.3 L608.2,370.1 L608.7,358.8 L609.2,347.6 L609.7,335.3 L610.2,324.0 L610.7,312.4 L611.2,303.7 L611.7,294.2 L612.2,284.4 L612.7,277.8 L613.2,272.6 L613.7,268.4 L614.2,265.7 L614.7,263.3 L615.2,260.6 L615.7,260.0 L616.2,262.7 L616.7,267.1 L617.2,273.2 L617.7,279.1 L618.2,287.1 L618.7,296.0 L619.2,305.7 L619.7,314.7 L620.2,322.5 L620.7,330.0 L621.2,336.3 L621.7,341.1 L622.2,345.6 L622.7,348.9 L623.2,352.1 L623.7,354.8 L624.2,356.3 L624.7,358.4 L625.2,358.0 L625.7,356.7 L626.2,354.9 L626.7,351.7 L627.2,348.2 L627.7,345.2 L628.2,340.2 L628.7,336.9 L629.2,333.7 L629.7,334.2 L630.2,336.7 L630.7,340.0 L631.2,345.1 L631.7,351.6 L632.2,358.7 L632.7,365.1 L633.2,373.5 L633.7,382.4 L634.2,393.9 L634.7,405.5 L635.2,418.0 L635.7,432.8 L636.2,447.6 L636.7,457.0 L637.2,462.8 L637.7,466.8 L638.2,466.4 L638.7,462.1 L639.2,455.2 L639.7,448.2 L640.2,444.4 L640.7,442.7 L641.2,440.6 L641.7,439.9 L642.2,440.0 L642.7,443.5 L643.2,451.0 L643.7,456.4 L644.2,455.4 L644.7,450.6 L645.2,445.0 L645.7,437.3 L646.2,427.9 L646.7,417.4 L647.2,403.8 L647.7,387.7 L648.2,373.5 L648.7,361.5 L649.2,351.5 L649.7,340.5 L650.2,331.6 L650.7,323.6 L651.2,319.0 L651.7,315.8 L652.2,314.5 L652.7,313.0 L653.2,314.4 L653.7,314.6 L654.2,316.4 L654.7,316.3 L655.2,317.3 L655.7,318.1 L656.2,319.1 L656.7,319.7 L657.2,321.2 L657.7,320.3 L658.2,318.2 L658.7,315.6 L659.2,313.2 L659.7,310.6 L660.2,309.9 L660.7,310.0 L661.2,310.9 L661.7,313.0 L662.2,315.1 L662.7,317.1 L663.2,321.9 L663.7,327.3 L664.2,333.4 L664.7,341.3 L665.2,348.7 L665.7,358.2 L666.2,368.8 L666.7,381.5 L667.2,394.7 L667.7,407.6 L668.2,418.9 L668.7,430.9 L669.2,442.5 L669.7,451.0 L670.2,457.1 L670.7,457.3 L671.2,453.8 L671.7,448.1 L672.2,442.9 L672.7,438.8 L673.2,437.1 L673.7,435.4 L674.2,434.8 L674.7,433.1 L675.2,431.3 L675.7,429.4 L676.2,429.4 L676.7,427.1 L677.2,425.1 L677.7,423.2 L678.2,421.1 L678.7,417.3 L679.2,411.7 L679.7,403.4 L680.2,395.6 L680.7,387.6 L681.2,381.6 L681.7,376.4 L682.2,372.8 L682.7,369.0 L683.2,366.4 L683.7,363.9 L684.2,364.0 L684.7,362.2 L685.2,362.1 L685.7,362.4 L686.2,366.1 L686.7,369.8 L687.2,375.7 L687.7,377.9 L688.2,383.1 L688.7,386.1 L689.2,388.7 L689.7,390.1 L690.2,393.0 L690.7,393.4 L691.2,394.7 L691.7,395.0 L692.2,395.8 L692.7,396.0 L693.2,397.3 L693.7,397.5 L694.2,400.0 L694.7,405.1 L695.2,410.0 L695.7,416.0 L696.2,423.2 L696.7,431.3 L697.2,440.4 L697.7,448.6 L698.2,456.6 L698.7,462.7 L699.2,466.3 L699.7,469.0 L700.2,468.1 L700.7,466.5 L701.2,462.9 L701.7,458.1 L702.2,451.9 L702.7,441.6 L703.2,429.9 L703.7,420.4 L704.2,411.4 L704.7,403.1 L705.2,395.4 L705.7,389.1 L706.2,384.2 L706.7,379.3 L707.2,375.3 L707.7,371.7 L708.2,367.4 L708.7,361.9 L709.2,353.6 L709.7,345.1 L710.2,340.4 L710.7,336.6 L711.2,334.6 L711.7,332.2 L712.2,329.7 L712.7,327.0 L713.2,325.5 L713.7,323.7 L714.2,323.4 L714.7,320.3 L715.2,318.1 L715.7,315.4 L716.2,314.1 L716.7,313.8 L717.2,313.0 L717.7,311.6 L718.2,311.6 L718.7,311.0 L719.2,311.1 L719.7,311.1 L720.2,310.4 L720.7,309.5 L721.2,309.7 L721.7,306.5 L722.2,302.7 L722.7,298.3 L723.2,294.3 L723.7,292.3 L724.2,291.3 L724.7,293.6 L725.2,296.9 L725.7,302.9 L726.2,307.8 L726.7,310.8 L727.2,313.2 L727.7,315.2 L728.2,317.9 L728.7,320.9 L729.2,326.1 L729.7,332.1 L730.2,337.7 L730.7,342.5 L731.2,346.2 L731.7,350.2 L732.2,354.2 L732.7,357.3 L733.2,358.9 L733.7,361.8 L734.2,362.3 L734.7,363.6 L735.2,364.2 L735.7,363.2 L736.2,363.4 L736.7,363.6 L737.2,363.3 L737.7,363.6 L738.2,364.5 L738.7,364.6 L739.2,368.0 L739.7,371.3 L740.2,374.0 L740.7,375.0 L741.2,372.0 L741.7,363.3 L742.2,354.3 L742.7,347.7 L743.2,343.4 L743.7,339.0 L744.2,335.6 L744.7,333.4 L745.2,331.0 L745.7,329.1 L746.2,326.5 L746.7,324.4 L747.2,323.3 L747.7,320.7 L748.2,318.9 L748.7,318.9 L749.2,317.0 L749.7,315.6 L750.2,315.4 L750.7,316.1 L751.2,317.8 L751.7,320.2 L752.2,321.5 L752.7,324.4 L753.2,328.7 L753.7,332.7 L754.2,336.9 L754.7,342.0 L755.2,345.8 L755.7,349.5 L756.2,351.1 L756.7,352.5 L757.2,353.2 L757.7,355.8 L758.2,356.6 L758.7,357.8 L759.2,358.3 L759.7,359.4 L760.2,360.9 L760.7,361.8 L761.2,362.1 L761.7,363.6 L762.2,365.1 L762.7,366.8 L763.2,367.2 L763.7,367.7 L764.2,369.9 L764.7,372.5 L765.2,375.2 L765.7,375.6 L766.2,377.6 L766.7,381.8 L767.2,385.0 L767.7,386.1 L768.2,384.5 L768.7,380.6 L769.2,376.5 L769.7,367.3 L770.2,348.6 L770.7,328.4 L771.2,314.4 L771.7,305.5 L772.2,299.2 L772.7,292.3 L773.2,286.6 L773.7,282.8 L774.2,277.8 L774.7,272.7 L775.2,268.6 L775.7,267.6 L776.2,268.2 L776.7,271.4 L777.2,274.9 L777.7,280.1 L778.2,285.7 L778.7,291.4 L779.2,299.7 L779.7,307.6 L780.2,315.3 L780.7,321.8 L781.2,326.8 L781.7,331.8 L782.2,335.6 L782.7,339.1 L783.2,340.6 L783.7,342.3 L784.2,343.2 L784.7,344.2 L785.2,343.4 L785.7,344.9 L786.2,346.4 L786.7,348.6 L787.2,352.9 L787.7,357.7 L788.2,361.7 L788.7,365.8 L789.2,369.1 L789.7,372.1 L790.2,375.7 L790.7,378.5 L791.2,380.9 L791.7,382.5 L792.2,384.3 L792.7,386.3 L793.2,387.8 L793.7,389.3 L794.2,389.3 L794.7,390.1 L795.2,391.0 L795.7,391.0 L796.2,389.5 L796.7,388.7 L797.2,385.8 L797.7,374.9 L798.2,355.0 L798.7,340.0 L799.2,331.5 L799.7,326.5 L800.2,321.5 L800.7,319.1 L801.2,316.2 L801.7,313.2 L802.2,309.4 L802.7,303.6 L803.2,298.6 L803.7,293.7 L804.2,289.2 L804.7,284.2 L805.2,278.7 L805.7,272.1 L806.2,265.6 L806.7,257.8 L807.2,251.4 L807.7,242.7 L808.2,237.6 L808.7,233.2 L809.2,230.1 L809.7,226.8 L810.2,224.9 L810.7,224.1 L811.2,223.1 L811.7,223.7 L812.2,223.9 L812.7,226.3 L813.2,229.1 L813.7,231.8 L814.2,236.3 L814.7,242.0 L815.2,246.6 L815.7,252.6 L816.2,259.0 L816.7,266.4 L817.2,273.9 L817.7,280.4 L818.2,286.6 L818.7,295.3 L819.2,302.6 L819.7,309.3 L820.2,314.6 L820.7,319.7 L821.2,325.9 L821.7,335.0 L822.2,350.5 L822.7,371.9 L823.2,391.8 L823.7,402.7 L824.2,408.7 L824.7,413.6 L825.2,417.5 L825.7,421.2 L826.2,425.7 L826.7,430.6 L827.2,435.9 L827.7,439.3 L828.2,440.6" fill="none" stroke="#f84040" stroke-width="2.9" stroke-linejoin="round"/></g>
<rect x="102.2" y="20.3" width="726.1999999999999" height="610.5" fill="none" stroke="#000" stroke-width="2.3"/>
<text class="l" x="92" y="32.6" text-anchor="end">35</text>
<text class="l" x="92" y="185.2" text-anchor="end">30</text>
<text class="l" x="92" y="337.9" text-anchor="end">25</text>
<text class="l" x="92" y="490.5" text-anchor="end">20</text>
<text class="l" x="92" y="643.1" text-anchor="end">15</text>
<text class="l" x="102.2" y="671.5" text-anchor="middle" textLength="47" lengthAdjust="spacingAndGlyphs">1.0</text>
<text class="l" x="247.4" y="671.5" text-anchor="middle" textLength="47" lengthAdjust="spacingAndGlyphs">1.2</text>
<text class="l" x="392.7" y="671.5" text-anchor="middle" textLength="47" lengthAdjust="spacingAndGlyphs">1.4</text>
<text class="l" x="537.9" y="671.5" text-anchor="middle" textLength="47" lengthAdjust="spacingAndGlyphs">1.6</text>
<text class="l" x="683.2" y="671.5" text-anchor="middle" textLength="47" lengthAdjust="spacingAndGlyphs">1.8</text>
<text class="l" x="828.4" y="671.5" text-anchor="middle">2.0</text>
<path d="M96.60000000000001,20.3H102.2 M823.9,20.3H828.4 M96.60000000000001,172.9H102.2 M823.9,172.9H828.4 M96.60000000000001,325.6H102.2 M823.9,325.6H828.4 M96.60000000000001,478.2H102.2 M823.9,478.2H828.4 M96.60000000000001,630.8H102.2 M823.9,630.8H828.4 M99.0,96.6H102.2 M825.9,96.6H828.4 M99.0,249.2H102.2 M825.9,249.2H828.4 M99.0,401.9H102.2 M825.9,401.9H828.4 M99.0,554.5H102.2 M825.9,554.5H828.4 M102.2,630.8V636.4 M102.2,20.3V25.8 M247.4,630.8V636.4 M247.4,20.3V25.8 M392.7,630.8V636.4 M392.7,20.3V25.8 M537.9,630.8V636.4 M537.9,20.3V25.8 M683.2,630.8V636.4 M683.2,20.3V25.8 M828.4,630.8V636.4 M828.4,20.3V25.8 M174.8,630.8V634.0 M320.1,630.8V634.0 M465.3,630.8V634.0 M610.5,630.8V634.0 M755.8,630.8V634.0" stroke="#000" stroke-width="2.2" fill="none"/>
<text class="l" x="465.5" y="714.5" text-anchor="middle">Time (s)</text>
<text class="l" style="font-size:38px" transform="translate(33.5,322) rotate(-90)" text-anchor="middle">Radial force (<tspan font-style="italic">kN</tspan>)</text>
<text class="b" x="468.5" y="785.5" text-anchor="middle"><tspan font-weight="normal">(</tspan>a<tspan font-weight="normal">)</tspan></text>
<rect x="425.6" y="55.3" width="356.9" height="103.5" fill="#fff" stroke="#222" stroke-width="1"/>
<path d="M430.5,83H520" stroke="#4f4f4f" stroke-width="3"/><path d="M430.5,131.5H520" stroke="#f84040" stroke-width="3"/>
<text class="l" style="font-size:39.6px" x="529.3" y="95.5">Polygonal wear</text><text class="l" style="font-size:39.6px" x="529.3" y="144">Normal tread</text>
<clipPath id="cr"><rect x="1037.2" y="20.3" width="691.0" height="606.7"/></clipPath>
<g clip-path="url(#cr)">
<path d="M1072.0,625.0 L1072.0,618.5 L1073.0,618.2 L1074.0,619.7 L1075.0,617.5 L1076.0,619.1 L1077.0,617.1 L1078.0,617.8 L1079.0,618.8 L1080.0,619.2 L1081.0,618.8 L1082.0,617.7 L1083.0,617.4 L1084.0,619.0 L1085.0,619.1 L1086.0,617.7 L1087.0,617.4 L1088.0,617.9 L1089.0,618.3 L1090.0,617.1 L1091.0,618.7 L1092.0,617.8 L1093.0,617.2 L1094.0,615.6 L1095.0,616.5 L1096.0,615.6 L1097.0,616.7 L1098.0,617.3 L1099.0,617.2 L1100.0,615.0 L1101.0,615.7 L1102.0,616.7 L1103.0,617.5 L1104.0,616.0 L1105.0,615.4 L1106.0,616.1 L1107.0,616.6 L1108.0,615.3 L1109.0,614.6 L1110.0,616.6 L1111.0,617.2 L1112.0,616.3 L1113.0,616.1 L1114.0,615.4 L1115.0,616.8 L1116.0,615.1 L1117.0,615.4 L1118.0,616.1 L1119.0,617.1 L1120.0,615.0 L1121.0,617.0 L1122.0,615.6 L1123.0,617.5 L1124.0,617.6 L1125.0,616.2 L1126.0,617.7 L1127.0,615.9 L1128.0,617.4 L1129.0,618.4 L1130.0,618.4 L1131.0,618.0 L1132.0,617.4 L1133.0,616.7 L1134.0,619.2 L1135.0,618.6 L1136.0,619.3 L1137.0,617.2 L1138.0,619.7 L1139.0,620.1 L1140.0,620.1 L1141.0,619.3 L1142.0,617.9 L1143.0,618.0 L1144.0,618.5 L1145.0,617.8 L1146.0,618.1 L1147.0,619.9 L1148.0,620.4 L1149.0,618.2 L1150.0,618.8 L1151.0,621.0 L1152.0,619.2 L1153.0,620.0 L1154.0,620.1 L1155.0,620.2 L1156.0,620.7 L1157.0,621.2 L1158.0,620.5 L1159.0,620.3 L1160.0,618.5 L1161.0,621.0 L1162.0,618.6 L1163.0,620.8 L1164.0,620.3 L1165.0,619.0 L1166.0,619.0 L1167.0,620.2 L1168.0,621.3 L1169.0,620.1 L1170.0,620.4 L1171.0,618.8 L1172.0,620.9 L1173.0,620.4 L1174.0,618.9 L1175.0,621.4 L1176.0,620.3 L1177.0,619.1 L1178.0,619.3 L1179.0,621.4 L1180.0,621.4 L1181.0,621.3 L1182.0,618.9 L1183.0,620.8 L1184.0,619.4 L1185.0,618.9 L1186.0,620.6 L1187.0,620.8 L1188.0,618.8 L1189.0,619.8 L1190.0,620.8 L1191.0,619.5 L1192.0,620.7 L1193.0,620.8 L1194.0,621.6 L1195.0,619.4 L1196.0,618.9 L1197.0,619.8 L1198.0,618.9 L1199.0,621.5 L1200.0,620.9 L1201.0,620.3 L1202.0,618.9 L1203.0,618.9 L1204.0,620.5 L1205.0,620.9 L1206.0,620.4 L1207.0,620.2 L1208.0,619.0 L1209.0,621.1 L1210.0,619.3 L1211.0,619.5 L1212.0,619.3 L1213.0,619.4 L1214.0,619.9 L1215.0,620.7 L1216.0,620.8 L1217.0,620.7 L1218.0,619.4 L1219.0,621.5 L1220.0,621.1 L1221.0,619.5 L1222.0,621.0 L1223.0,621.5 L1224.0,621.6 L1225.0,620.1 L1226.0,620.8 L1227.0,618.9 L1228.0,619.2 L1229.0,618.9 L1230.0,621.0 L1231.0,621.5 L1232.0,621.5 L1233.0,620.3 L1234.0,619.7 L1235.0,620.5 L1236.0,621.1 L1237.0,620.6 L1238.0,620.0 L1239.0,619.8 L1240.0,619.6 L1241.0,619.3 L1242.0,619.9 L1243.0,621.4 L1244.0,619.4 L1245.0,620.9 L1246.0,620.2 L1247.0,620.7 L1248.0,619.7 L1249.0,621.2 L1250.0,621.1 L1251.0,621.1 L1252.0,621.4 L1253.0,619.3 L1254.0,620.1 L1255.0,620.9 L1256.0,620.7 L1257.0,619.0 L1258.0,620.4 L1259.0,621.2 L1260.0,619.5 L1261.0,620.0 L1262.0,619.0 L1263.0,621.6 L1264.0,620.5 L1265.0,619.5 L1266.0,619.4 L1267.0,619.2 L1268.0,621.7 L1269.0,621.0 L1270.0,621.5 L1271.0,621.3 L1272.0,619.1 L1273.0,620.2 L1274.0,619.2 L1275.0,621.9 L1276.0,620.4 L1277.0,621.7 L1278.0,622.3 L1279.0,620.7 L1280.0,620.2 L1281.0,622.8 L1282.0,621.2 L1283.0,621.2 L1284.0,622.4 L1285.0,622.0 L1286.0,622.7 L1287.0,622.5 L1288.0,622.3 L1289.0,621.3 L1290.0,621.1 L1291.0,622.5 L1292.0,623.1 L1293.0,622.1 L1294.0,621.0 L1295.0,622.6 L1296.0,622.2 L1297.0,622.5 L1298.0,620.7 L1299.0,621.4 L1300.0,622.9 L1301.0,622.8 L1302.0,621.9 L1303.0,621.4 L1304.0,621.2 L1305.0,622.9 L1306.0,622.6 L1307.0,621.0 L1308.0,621.9 L1309.0,622.3 L1310.0,622.2 L1311.0,620.2 L1312.0,622.2 L1313.0,621.4 L1314.0,622.1 L1315.0,621.9 L1316.0,620.5 L1317.0,620.1 L1318.0,622.0 L1319.0,622.6 L1320.0,620.9 L1321.0,622.5 L1322.0,623.2 L1323.0,620.4 L1324.0,621.9 L1325.0,620.6 L1326.0,621.9 L1327.0,620.4 L1328.0,621.8 L1329.0,622.7 L1330.0,623.1 L1331.0,621.5 L1332.0,621.2 L1333.0,620.4 L1334.0,622.9 L1335.0,621.3 L1336.0,622.0 L1337.0,621.6 L1338.0,622.7 L1339.0,622.3 L1340.0,621.6 L1341.0,620.3 L1342.0,622.9 L1343.0,621.7 L1344.0,620.7 L1345.0,620.2 L1346.0,622.6 L1347.0,622.8 L1348.0,620.3 L1349.0,620.2 L1350.0,621.7 L1351.0,623.1 L1352.0,620.3 L1353.0,622.0 L1354.0,620.4 L1355.0,621.3 L1356.0,620.7 L1357.0,622.7 L1358.0,620.8 L1359.0,622.5 L1360.0,622.0 L1361.0,620.6 L1362.0,620.7 L1363.0,622.7 L1364.0,622.6 L1365.0,622.0 L1366.0,621.6 L1367.0,622.1 L1368.0,622.9 L1369.0,622.5 L1370.0,621.0 L1371.0,620.5 L1372.0,623.1 L1373.0,621.5 L1374.0,620.9 L1375.0,623.1 L1376.0,620.7 L1377.0,622.9 L1378.0,621.4 L1379.0,621.6 L1380.0,621.3 L1381.0,622.3 L1382.0,622.0 L1383.0,621.5 L1384.0,621.9 L1385.0,621.2 L1386.0,621.9 L1387.0,621.9 L1388.0,623.2 L1389.0,621.4 L1390.0,621.8 L1391.0,622.5 L1392.0,620.9 L1393.0,620.9 L1394.0,621.9 L1395.0,622.7 L1396.0,621.8 L1397.0,622.9 L1398.0,622.9 L1399.0,621.9 L1400.0,623.0 L1401.0,621.9 L1402.0,621.7 L1403.0,623.2 L1404.0,621.3 L1405.0,623.0 L1406.0,621.0 L1407.0,620.9 L1408.0,621.7 L1409.0,623.1 L1410.0,621.7 L1411.0,622.1 L1412.0,620.3 L1413.0,622.9 L1414.0,620.6 L1415.0,620.2 L1416.0,621.0 L1417.0,620.8 L1418.0,622.7 L1419.0,620.3 L1420.0,621.8 L1421.0,620.3 L1422.0,620.5 L1423.0,622.8 L1424.0,620.9 L1425.0,620.4 L1426.0,623.1 L1427.0,622.2 L1428.0,621.0 L1429.0,622.8 L1430.0,620.5 L1431.0,622.5 L1432.0,620.8 L1433.0,622.9 L1434.0,621.8 L1435.0,620.5 L1436.0,622.7 L1437.0,622.5 L1438.0,621.8 L1439.0,622.3 L1440.0,623.2 L1441.0,622.8 L1442.0,622.8 L1443.0,620.4 L1444.0,621.2 L1445.0,620.6 L1446.0,622.8 L1447.0,620.9 L1448.0,623.0 L1449.0,621.7 L1450.0,622.0 L1451.0,623.0 L1452.0,621.2 L1453.0,622.3 L1454.0,622.2 L1455.0,621.2 L1456.0,624.0 L1457.0,620.8 L1458.0,622.1 L1459.0,622.9 L1460.0,621.5 L1461.0,623.4 L1462.0,620.8 L1463.0,622.3 L1464.0,623.0 L1465.0,621.6 L1466.0,622.8 L1467.0,623.7 L1468.0,621.7 L1469.0,624.2 L1470.0,621.4 L1471.0,623.4 L1472.0,622.0 L1473.0,620.8 L1474.0,622.2 L1475.0,622.0 L1476.0,623.2 L1477.0,624.3 L1478.0,624.2 L1479.0,623.8 L1480.0,622.1 L1481.0,622.8 L1482.0,622.5 L1483.0,621.1 L1484.0,623.9 L1485.0,623.5 L1486.0,622.0 L1487.0,624.3 L1488.0,624.4 L1489.0,623.1 L1490.0,624.0 L1491.0,623.1 L1492.0,623.6 L1493.0,622.3 L1494.0,622.2 L1495.0,623.6 L1496.0,622.1 L1497.0,622.7 L1498.0,623.9 L1499.0,621.0 L1500.0,623.5 L1501.0,623.8 L1502.0,624.0 L1503.0,622.1 L1504.0,621.2 L1505.0,621.6 L1506.0,622.9 L1507.0,623.4 L1508.0,624.3 L1509.0,622.1 L1510.0,622.4 L1511.0,623.1 L1512.0,622.1 L1513.0,622.8 L1514.0,621.0 L1515.0,621.7 L1516.0,623.5 L1517.0,621.1 L1518.0,624.2 L1519.0,622.5 L1520.0,622.9 L1521.0,623.5 L1522.0,624.2 L1523.0,621.6 L1524.0,624.3 L1525.0,622.4 L1526.0,621.0 L1527.0,623.9 L1528.0,623.7 L1529.0,622.2 L1530.0,622.6 L1531.0,622.1 L1532.0,621.5 L1533.0,623.8 L1534.0,623.3 L1535.0,623.3 L1536.0,624.2 L1537.0,621.2 L1538.0,621.6 L1539.0,621.8 L1540.0,624.4 L1541.0,621.4 L1542.0,621.7 L1543.0,622.7 L1544.0,621.7 L1545.0,622.8 L1546.0,623.6 L1547.0,624.0 L1548.0,623.6 L1549.0,624.3 L1550.0,623.2 L1551.0,621.7 L1552.0,621.9 L1553.0,621.4 L1554.0,621.8 L1555.0,623.5 L1556.0,622.4 L1557.0,622.8 L1558.0,621.6 L1559.0,622.5 L1560.0,623.5 L1561.0,622.1 L1562.0,620.9 L1563.0,623.6 L1564.0,621.2 L1565.0,624.4 L1566.0,623.5 L1567.0,623.6 L1568.0,621.7 L1569.0,621.0 L1570.0,621.7 L1571.0,623.2 L1572.0,621.3 L1573.0,623.2 L1574.0,623.6 L1575.0,621.2 L1576.0,622.2 L1577.0,621.9 L1578.0,622.0 L1579.0,620.9 L1580.0,622.7 L1581.0,621.4 L1582.0,621.9 L1583.0,621.3 L1584.0,622.9 L1585.0,621.8 L1586.0,622.4 L1587.0,623.3 L1588.0,623.7 L1589.0,622.2 L1590.0,624.2 L1591.0,621.2 L1592.0,623.9 L1593.0,624.3 L1594.0,624.0 L1595.0,621.1 L1596.0,623.2 L1597.0,623.9 L1598.0,624.3 L1599.0,624.3 L1600.0,621.9 L1601.0,622.2 L1602.0,621.9 L1603.0,621.8 L1604.0,624.2 L1605.0,622.3 L1606.0,623.1 L1607.0,621.5 L1608.0,621.5 L1609.0,621.2 L1610.0,624.2 L1611.0,621.3 L1612.0,621.2 L1613.0,621.0 L1614.0,624.1 L1615.0,623.7 L1616.0,624.0 L1617.0,624.3 L1618.0,621.4 L1619.0,621.5 L1620.0,622.2 L1621.0,621.5 L1622.0,622.2 L1623.0,623.4 L1624.0,624.1 L1625.0,624.1 L1626.0,621.7 L1627.0,623.7 L1628.0,623.3 L1629.0,622.9 L1630.0,624.4 L1631.0,623.5 L1632.0,623.4 L1633.0,621.9 L1634.0,623.1 L1635.0,623.3 L1636.0,621.0 L1637.0,622.6 L1638.0,621.4 L1639.0,622.2 L1640.0,624.3 L1641.0,623.0 L1642.0,622.9 L1643.0,621.7 L1644.0,623.2 L1645.0,621.9 L1646.0,622.5 L1647.0,623.7 L1648.0,621.4 L1649.0,624.1 L1650.0,621.5 L1651.0,623.8 L1652.0,624.5 L1653.0,623.7 L1654.0,621.7 L1655.0,620.9 L1656.0,624.4 L1657.0,622.7 L1658.0,622.7 L1659.0,621.6 L1660.0,623.8 L1661.0,622.7 L1662.0,623.2 L1663.0,621.5 L1664.0,623.5 L1665.0,621.1 L1666.0,623.4 L1667.0,623.7 L1668.0,622.0 L1669.0,622.7 L1670.0,624.1 L1671.0,622.2 L1672.0,624.2 L1673.0,621.6 L1674.0,622.0 L1675.0,621.6 L1676.0,622.2 L1677.0,623.2 L1678.0,623.0 L1679.0,623.1 L1680.0,621.3 L1681.0,624.2 L1682.0,621.3 L1683.0,624.4 L1684.0,623.7 L1685.0,623.5 L1686.0,621.2 L1687.0,622.7 L1688.0,623.1 L1689.0,621.3 L1690.0,623.6 L1691.0,622.8 L1692.0,622.6 L1693.0,621.8 L1694.0,621.8 L1695.0,622.2 L1696.0,623.2 L1697.0,623.3 L1698.0,623.9 L1699.0,621.4 L1700.0,622.1 L1701.0,621.8 L1702.0,623.9 L1703.0,622.9 L1704.0,621.7 L1705.0,622.4 L1706.0,624.0 L1707.0,622.8 L1708.0,621.3 L1709.0,623.6 L1710.0,623.8 L1711.0,623.4 L1712.0,622.0 L1713.0,621.4 L1714.0,623.9 L1715.0,623.9 L1716.0,623.6 L1717.0,623.3 L1718.0,622.6 L1719.0,623.9 L1720.0,623.3 L1721.0,623.8 L1722.0,621.0 L1723.0,621.9 L1724.0,624.1 L1725.0,621.0 L1726.0,624.1 L1727.0,623.1 L1728.0,620.9 L1728.2,625.0Z" fill="#4f4f4f"/>
<path d="M1037.2,625.0 L1037.2,254 L1041.3,255 L1041.6,355 L1043.6,358 L1044,390 L1046.9,393 L1047.3,440 L1049,508 L1050.4,548 L1051.4,564 L1054,566 L1055,570 L1055.6,557 L1057.8,556.5 L1058.6,580 L1061.7,591 L1065.4,603 L1069.2,612 L1074,618 L1078,625.0Z" fill="#4f4f4f"/>
<path d="M1097.0,625.0V613.0 M1106.9,625.0V622.0 M1116.9,625.0V586.5 M1126.8,625.0V593.0 M1136.8,625.0V582.5 M1146.8,625.0V601.5 M1156.7,625.0V590.0 M1166.7,625.0V616.0 M1176.6,625.0V610.5 M1186.6,625.0V613.5 M1196.6,625.0V619.5 M1206.5,625.0V608.5 M1216.5,625.0V619.5 M1226.4,625.0V600.0 M1246.4,625.0V601.5 M1256.3,625.0V620.0 M1266.3,625.0V614.0 M1276.2,625.0V622.0 M1286.2,625.0V616.6 M1296.2,625.0V620.0 M1306.1,625.0V622.0 M1316.1,625.0V621.0 M1326.0,625.0V617.0 M1336.0,625.0V618.4 M1346.0,625.0V618.7 M1355.9,625.0V618.7 M1365.9,625.0V620.6 M1375.8,625.0V622.5 M1385.8,625.0V622.5 M1395.8,625.0V622.5 M1405.7,625.0V620.6 M1415.7,625.0V618.7 M1425.6,625.0V618.0 M1435.6,625.0V574.3 M1445.6,625.0V620.0 M1455.5,625.0V622.5 M1475.4,625.0V622.0 M1495.4,625.0V620.0 M1515.3,625.0V622.0 M1535.2,625.0V621.5 M1565.1,625.0V622.0 M1595.0,625.0V621.5 M1634.8,625.0V622.0 M1674.6,625.0V622.5" stroke="#4f4f4f" stroke-width="2.9" stroke-linecap="round" fill="none"/>
<path d="M1236.4,625.0V93.5" stroke="#4f4f4f" stroke-width="3.0" stroke-linecap="round" fill="none"/>
<path d="M1237.7,625.0V311" stroke="#4f4f4f" stroke-width="1.6" fill="none"/>
<path d="M1229,625.0 L1231.5,618 L1234,600 L1235.2,575 L1237.6,575 L1239,600 L1241.5,618 L1244,625.0Z" fill="#4f4f4f"/>
<path d="M1037.2,625.0 L1037.2,254.0 L1039.5,253.5 L1040.6,257.0 L1040.9,356.0 L1042.8,359.0 L1043.2,391.0 L1046.1,394.0 L1046.5,440.0 L1047.6,480.0 L1048.3,508.0 L1049.6,548.0 L1050.6,565.0 L1053.4,567.0 L1054.6,572.0 L1055.6,558.0 L1057.0,557.5 L1057.8,580.0 L1060.9,592.0 L1064.6,603.7 L1068.3,612.7 L1072.8,618.0 L1075.0,618.8 L1076.5,618.9 L1078.0,619.5 L1079.5,620.0 L1081.0,618.9 L1082.5,620.1 L1084.0,619.8 L1085.5,619.2 L1087.0,620.0 L1088.5,619.0 L1090.0,617.8 L1091.5,617.9 L1093.0,618.2 L1094.5,617.7 L1096.0,618.0 L1097.5,618.8 L1099.0,617.3 L1100.5,617.7 L1102.0,616.6 L1103.5,615.9 L1105.0,617.3 L1106.5,616.8 L1108.0,616.2 L1109.5,617.2 L1111.0,617.8 L1112.5,616.3 L1114.0,615.8 L1115.5,616.2 L1117.0,616.6 L1118.5,616.3 L1120.0,617.0 L1121.5,617.2 L1123.0,618.0 L1124.5,618.6 L1126.0,617.9 L1127.5,619.5 L1129.0,618.9 L1130.5,618.2 L1132.0,618.6 L1133.5,619.0 L1135.0,620.0 L1136.5,619.8 L1138.0,619.9 L1139.5,619.7 L1141.0,620.3 L1142.5,619.9 L1144.0,619.6 L1145.5,621.0 L1147.0,620.3 L1148.5,620.2 L1150.0,620.9 L1151.5,620.8 L1153.0,620.0 L1154.5,621.6 L1156.0,620.9 L1157.5,621.5 L1159.0,620.5 L1160.5,620.3 L1162.0,621.0 L1163.5,621.7 L1165.0,621.0 L1166.5,621.0 L1168.0,620.8 L1169.5,621.1 L1171.0,620.9 L1172.5,620.7 L1174.0,621.1 L1175.5,621.3 L1177.0,620.5 L1178.5,621.6 L1180.0,620.9 L1181.5,621.4 L1183.0,620.8 L1184.5,621.8 L1186.0,620.5 L1187.5,621.5 L1189.0,621.9 L1190.5,621.6 L1192.0,621.4 L1193.5,622.0 L1195.0,621.4 L1196.5,621.4 L1198.0,621.0 L1199.5,621.5 L1201.0,621.7 L1202.5,621.7 L1204.0,621.0 L1205.5,620.7 L1207.0,621.3 L1208.5,621.8 L1210.0,620.9 L1211.5,621.5 L1213.0,621.8 L1214.5,621.9 L1216.0,621.0 L1217.5,621.0 L1219.0,621.2 L1220.5,621.5 L1222.0,621.3 L1223.5,621.8 L1225.0,620.8 L1226.5,621.6 L1228.0,621.2 L1229.5,621.0 L1231.0,621.0 L1232.5,621.5 L1234.0,621.8 L1235.5,621.4 L1237.0,622.0 L1238.5,621.0 L1240.0,621.7 L1241.5,621.0 L1243.0,621.8 L1244.5,621.7 L1246.0,621.8 L1247.5,621.6 L1249.0,621.9 L1250.5,622.2 L1252.0,621.2 L1253.5,621.8 L1255.0,621.9 L1256.5,621.8 L1258.0,621.6 L1259.5,621.6 L1261.0,621.4 L1262.5,621.3 L1264.0,621.7 L1265.5,621.0 L1267.0,621.1 L1268.5,622.2 L1270.0,621.1 L1271.5,621.0 L1273.0,621.2 L1274.5,622.1 L1276.0,621.1 L1277.5,621.4 L1279.0,622.3 L1280.5,622.3 L1282.0,621.0 L1283.5,621.4 L1285.0,621.9 L1286.5,622.1 L1288.0,622.1 L1289.5,622.0 L1291.0,621.2 L1292.5,621.8 L1294.0,622.1 L1295.5,621.1 L1297.0,621.2 L1298.5,622.1 L1300.0,621.1 L1301.5,621.5 L1303.0,621.3 L1304.5,621.4 L1306.0,621.1 L1307.5,621.3 L1309.0,621.2 L1310.5,622.1 L1312.0,621.4 L1313.5,621.6 L1315.0,621.3 L1316.5,621.7 L1318.0,621.2 L1319.5,621.6 L1321.0,622.0 L1322.5,622.0 L1324.0,622.2 L1325.5,621.7 L1327.0,622.3 L1328.5,621.7 L1330.0,622.2 L1331.5,621.7 L1333.0,621.7 L1334.5,621.6 L1336.0,621.2 L1337.5,622.4 L1339.0,621.3 L1340.5,621.7 L1342.0,621.6 L1343.5,621.5 L1345.0,621.3 L1346.5,621.9 L1348.0,621.8 L1349.5,621.1 L1351.0,622.3 L1352.5,621.5 L1354.0,621.5 L1355.5,622.3 L1357.0,621.6 L1358.5,621.5 L1360.0,621.2 L1361.5,622.0 L1363.0,621.1 L1364.5,621.7 L1366.0,621.8 L1367.5,621.2 L1369.0,622.4 L1370.5,621.5 L1372.0,621.6 L1373.5,622.0 L1375.0,621.3 L1376.5,621.9 L1378.0,621.8 L1379.5,621.7 L1381.0,621.4 L1382.5,622.1 L1384.0,621.8 L1385.5,621.9 L1387.0,621.7 L1388.5,621.3 L1390.0,622.0 L1391.5,621.3 L1393.0,621.9 L1394.5,621.8 L1396.0,622.1 L1397.5,621.8 L1399.0,621.2 L1400.5,621.6 L1402.0,621.4 L1403.5,622.0 L1405.0,622.0 L1406.5,622.0 L1408.0,621.7 L1409.5,621.6 L1411.0,621.4 L1412.5,622.4 L1414.0,621.5 L1415.5,621.3 L1417.0,621.7 L1418.5,622.4 L1420.0,622.1 L1421.5,622.4 L1423.0,622.2 L1424.5,621.3 L1426.0,621.7 L1427.5,621.6 L1429.0,621.4 L1430.5,621.3 L1432.0,621.7 L1433.5,621.7 L1435.0,621.7 L1436.5,621.6 L1438.0,621.7 L1439.5,621.6 L1441.0,622.2 L1442.5,621.6 L1444.0,621.9 L1445.5,621.5 L1447.0,622.3 L1448.5,622.2 L1450.0,622.4 L1451.5,621.5 L1453.0,621.3 L1454.5,621.6 L1456.0,622.0 L1457.5,621.4 L1459.0,621.5 L1460.5,621.8 L1462.0,622.1 L1463.5,622.1 L1465.0,621.9 L1466.5,622.1 L1468.0,621.9 L1469.5,621.7 L1471.0,621.3 L1472.5,622.4 L1474.0,621.8 L1475.5,622.4 L1477.0,622.3 L1478.5,621.5 L1480.0,621.8 L1481.5,621.3 L1483.0,621.9 L1484.5,622.5 L1486.0,622.0 L1487.5,621.7 L1489.0,621.3 L1490.5,621.3 L1492.0,621.9 L1493.5,622.0 L1495.0,622.4 L1496.5,621.7 L1498.0,622.2 L1499.5,622.3 L1501.0,622.5 L1502.5,622.5 L1504.0,621.6 L1505.5,622.3 L1507.0,621.3 L1508.5,622.4 L1510.0,621.4 L1511.5,622.3 L1513.0,622.5 L1514.5,621.6 L1516.0,622.2 L1517.5,621.6 L1519.0,622.3 L1520.5,622.4 L1522.0,621.5 L1523.5,621.6 L1525.0,621.4 L1526.5,621.6 L1528.0,622.4 L1529.5,621.7 L1531.0,621.6 L1532.5,621.9 L1534.0,621.4 L1535.5,622.2 L1537.0,621.3 L1538.5,621.6 L1540.0,622.5 L1541.5,622.5 L1543.0,621.7 L1544.5,621.5 L1546.0,622.4 L1547.5,622.1 L1549.0,621.6 L1550.5,622.3 L1552.0,621.5 L1553.5,621.9 L1555.0,622.5 L1556.5,622.1 L1558.0,621.8 L1559.5,622.0 L1561.0,621.7 L1562.5,622.4 L1564.0,621.5 L1565.5,622.1 L1567.0,621.7 L1568.5,621.8 L1570.0,622.0 L1571.5,622.1 L1573.0,621.6 L1574.5,621.4 L1576.0,621.6 L1577.5,621.8 L1579.0,622.2 L1580.5,622.5 L1582.0,621.3 L1583.5,621.7 L1585.0,621.5 L1586.5,622.1 L1588.0,621.8 L1589.5,621.3 L1591.0,621.5 L1592.5,621.8 L1594.0,622.2 L1595.5,622.0 L1597.0,621.5 L1598.5,622.1 L1600.0,621.7 L1601.5,621.8 L1603.0,621.5 L1604.5,621.6 L1606.0,622.2 L1607.5,622.5 L1609.0,622.2 L1610.5,622.0 L1612.0,621.8 L1613.5,621.6 L1615.0,621.5 L1616.5,622.5 L1618.0,621.5 L1619.5,621.6 L1621.0,621.5 L1622.5,621.9 L1624.0,622.2 L1625.5,621.5 L1627.0,621.6 L1628.5,621.7 L1630.0,621.4 L1631.5,622.1 L1633.0,622.5 L1634.5,621.9 L1636.0,621.6 L1637.5,622.3 L1639.0,621.7 L1640.5,621.4 L1642.0,622.3 L1643.5,621.8 L1645.0,621.7 L1646.5,622.0 L1648.0,622.3 L1649.5,622.3 L1651.0,621.7 L1652.5,621.6 L1654.0,622.0 L1655.5,622.5 L1657.0,621.6 L1658.5,621.6 L1660.0,622.3 L1661.5,621.9 L1663.0,621.5 L1664.5,621.5 L1666.0,621.9 L1667.5,622.0 L1669.0,621.9 L1670.5,622.3 L1672.0,622.3 L1673.5,622.4 L1675.0,621.7 L1676.5,622.1 L1678.0,621.9 L1679.5,622.1 L1681.0,622.0 L1682.5,622.4 L1684.0,622.5 L1685.5,621.4 L1687.0,622.1 L1688.5,622.5 L1690.0,621.8 L1691.5,621.6 L1693.0,622.4 L1694.5,621.9 L1696.0,622.2 L1697.5,622.0 L1699.0,622.6 L1700.5,622.5 L1702.0,621.4 L1703.5,621.5 L1705.0,622.0 L1706.5,621.9 L1708.0,622.3 L1709.5,621.6 L1711.0,622.1 L1712.5,621.4 L1714.0,621.7 L1715.5,621.6 L1717.0,621.4 L1718.5,622.3 L1720.0,622.5 L1721.5,622.3 L1723.0,622.4 L1724.5,622.5 L1726.0,622.5 L1727.5,621.9 L1729.0,621.5 L1728.2,625.0Z" fill="#f84040"/>
<path d="M1039.2,625.0 L1039.3,600 L1040.2,584 L1040.8,581.5 L1041.6,588 L1043.2,592 L1044,610 L1045.5,614 L1048.5,617 L1052,621 L1055,625.0Z" fill="#fff"/>
<path d="M1039.6,603 L1040.2,585 L1040.8,582 L1041.6,588 L1043.2,592 L1044,610 L1045.5,614 L1048.5,617 L1052,621 L1055,625.0" stroke="#4f4f4f" stroke-width="1.1" fill="none" stroke-dasharray="5,2.5"/>
<path d="M1057,625.0 L1058.5,619.5 L1060,620.5 L1062,625.0Z" fill="#fff"/><path d="M1057,625.0 L1058.5,619.5 L1060,620.5 L1062,625.0" stroke="#4f4f4f" stroke-width="1" fill="none"/>
<path d="M1038.6,268v12 M1038.3,300v12 M1039.5,334v14 M1041.2,352v10 M1044,395v6 M1046.5,426v8" stroke="#4f4f4f" stroke-width="1.8" fill="none"/>
</g>
<rect x="1037.2" y="20.3" width="691.0" height="604.7" fill="none" stroke="#000" stroke-width="2.3"/>
<text class="r" x="1023.8" y="31.3" text-anchor="end">800</text>
<text class="r" x="1023.8" y="182.5" text-anchor="end">600</text>
<text class="r" x="1023.8" y="333.6" text-anchor="end">400</text>
<text class="r" x="1023.8" y="484.8" text-anchor="end">200</text>
<text class="r" x="1023.8" y="636.0" text-anchor="end">0</text>
<text class="r" x="1037.2" y="666.6" text-anchor="middle">0</text>
<text class="r" x="1210.0" y="666.6" text-anchor="middle">500</text>
<text class="r" x="1382.7" y="666.6" text-anchor="middle">1000</text>
<text class="r" x="1555.5" y="666.6" text-anchor="middle">1500</text>
<text class="r" x="1728.2" y="666.6" text-anchor="middle">2000</text>
<path d="M1029.4,20.3H1037.2 M1721.7,20.3H1728.2 M1029.4,171.5H1037.2 M1721.7,171.5H1728.2 M1029.4,322.6H1037.2 M1721.7,322.6H1728.2 M1029.4,473.8H1037.2 M1721.7,473.8H1728.2 M1029.4,625.0H1037.2 M1721.7,625.0H1728.2 M1032.8,95.9H1037.2 M1724.7,95.9H1728.2 M1032.8,247.1H1037.2 M1724.7,247.1H1728.2 M1032.8,398.2H1037.2 M1724.7,398.2H1728.2 M1032.8,549.4H1037.2 M1724.7,549.4H1728.2 M1037.2,625.0V632.8 M1037.2,20.3V26.8 M1210.0,625.0V632.8 M1210.0,20.3V26.8 M1382.7,625.0V632.8 M1382.7,20.3V26.8 M1555.5,625.0V632.8 M1555.5,20.3V26.8 M1728.2,625.0V632.8 M1728.2,20.3V26.8 M1123.6,625.0V629.4 M1123.6,20.3V23.8 M1296.3,625.0V629.4 M1296.3,20.3V23.8 M1469.1,625.0V629.4 M1469.1,20.3V23.8 M1641.8,625.0V629.4 M1641.8,20.3V23.8" stroke="#000" stroke-width="2.2" fill="none"/>
<text class="r" x="1382.5" y="714.8" text-anchor="middle">Frequency (H<tspan font-style="italic">z</tspan>)</text>
<text class="r" transform="translate(950.3,323.5) rotate(-90)" text-anchor="middle">Radial force amplitude (<tspan font-style="italic">N</tspan>)</text>
<text class="b" x="1369" y="786" text-anchor="middle"><tspan font-weight="normal">(</tspan>b<tspan font-weight="normal">)</tspan></text>
<rect x="1353.5" y="50.5" width="328" height="97.5" fill="#fff" stroke="#222" stroke-width="1"/>
<path d="M1359.8,77.1H1439.6" stroke="#4f4f4f" stroke-width="3.1" stroke-linecap="round"/><path d="M1359.9,122.8H1436" stroke="#f84040" stroke-width="3.1" stroke-linecap="round" stroke-dasharray="12.4,18.7"/>
<text class="r" x="1450" y="89">Polygonal wear</text><text class="r" x="1450" y="134">Normal tread</text>
<text class="r" x="1168.5" y="75.4">576.5Hz</text><text class="r" x="1374" y="558.5">1153Hz</text>
</svg>
</body></html>
